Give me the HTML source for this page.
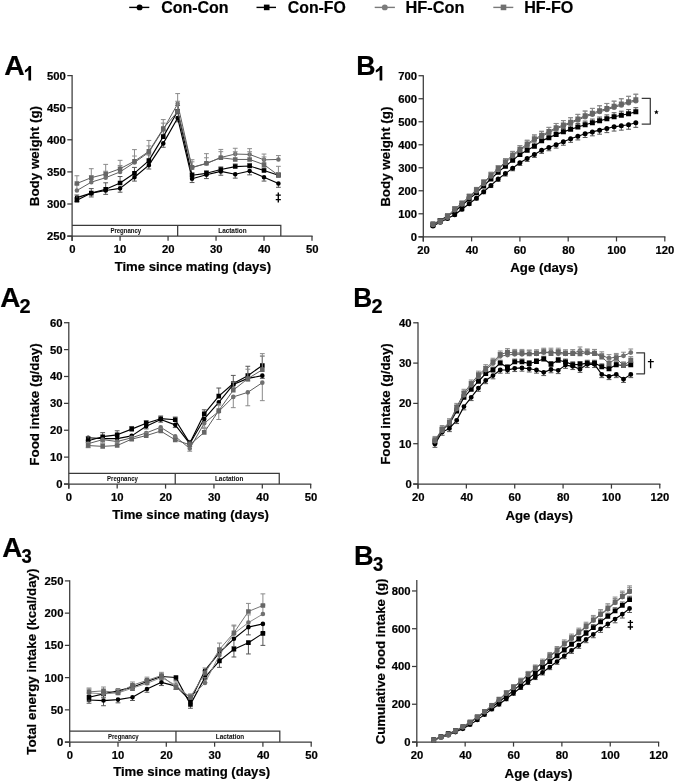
<!DOCTYPE html><html><head><meta charset="utf-8"><style>html,body{margin:0;padding:0;background:#fff;width:675px;height:782px;overflow:hidden}svg{display:block;will-change:transform}</style></head><body><svg width="675" height="782" viewBox="0 0 675 782" font-family="Liberation Sans, sans-serif">
<rect width="675" height="782" fill="#fff"/>
<line x1="129.2" y1="7.4" x2="149.3" y2="7.4" stroke="#000" stroke-width="1.4"/>
<circle cx="139.6" cy="7.4" r="2.95" fill="#000"/>
<text x="161.16" y="12.7" font-size="16.4" font-weight="bold" fill="#000" textLength="67.4" lengthAdjust="spacingAndGlyphs" stroke="#000" stroke-width="0.2">Con-Con</text>
<line x1="256.5" y1="7.4" x2="276" y2="7.4" stroke="#000" stroke-width="1.4"/>
<rect x="263.9" y="4.6" width="5.6" height="5.6" fill="#000"/>
<text x="287.87" y="12.7" font-size="16.4" font-weight="bold" fill="#000" textLength="57.99" lengthAdjust="spacingAndGlyphs" stroke="#000" stroke-width="0.2">Con-FO</text>
<line x1="374.7" y1="7.4" x2="394.9" y2="7.4" stroke="#7a7a7a" stroke-width="1.4"/>
<circle cx="384.8" cy="7.4" r="2.95" fill="#7c7c7c"/>
<text x="405.56" y="12.7" font-size="16.4" font-weight="bold" fill="#000" textLength="58.92" lengthAdjust="spacingAndGlyphs" stroke="#000" stroke-width="0.2">HF-Con</text>
<line x1="493.3" y1="7.4" x2="513.3" y2="7.4" stroke="#7a7a7a" stroke-width="1.4"/>
<rect x="500.7" y="4.6" width="5.6" height="5.6" fill="#707070"/>
<text x="524.17" y="12.7" font-size="16.4" font-weight="bold" fill="#000" textLength="49.18" lengthAdjust="spacingAndGlyphs" stroke="#000" stroke-width="0.2">HF-FO</text>
<text x="4.15" y="74.8" font-size="27.8" font-weight="bold" fill="#000" textLength="20.48" lengthAdjust="spacingAndGlyphs" stroke="#000" stroke-width="0.2">A</text>
<path d="M31.1 66V80.5H28.4V70.3Q26.7 72.2 24.9 72.6V70.2Q27.9 68.6 28.9 66Z" fill="#000"/>
<text x="356.13" y="74.8" font-size="27.8" font-weight="bold" fill="#000" textLength="19.3" lengthAdjust="spacingAndGlyphs" stroke="#000" stroke-width="0.2">B</text>
<path d="M382.3 66V80.5H379.6V70.3Q377.6 72.2 375.8 72.6V70.2Q379.1 68.6 380.1 66Z" fill="#000"/>
<text x="0.36" y="306.7" font-size="27.8" font-weight="bold" fill="#000" textLength="20.16" lengthAdjust="spacingAndGlyphs" stroke="#000" stroke-width="0.2">A</text>
<text x="19.5" y="312.6" font-size="20.7" font-weight="bold" fill="#000" textLength="11.12" lengthAdjust="spacingAndGlyphs" stroke="#000" stroke-width="0.2">2</text>
<text x="353.16" y="306.7" font-size="27.8" font-weight="bold" fill="#000" textLength="18.94" lengthAdjust="spacingAndGlyphs" stroke="#000" stroke-width="0.2">B</text>
<text x="371.6" y="312.6" font-size="20.7" font-weight="bold" fill="#000" textLength="11.12" lengthAdjust="spacingAndGlyphs" stroke="#000" stroke-width="0.2">2</text>
<text x="2.17" y="557" font-size="27.8" font-weight="bold" fill="#000" textLength="20.05" lengthAdjust="spacingAndGlyphs" stroke="#000" stroke-width="0.2">A</text>
<text x="21.53" y="562.9" font-size="20.7" font-weight="bold" fill="#000" textLength="10.23" lengthAdjust="spacingAndGlyphs" stroke="#000" stroke-width="0.2">3</text>
<text x="354" y="564.6" font-size="27.8" font-weight="bold" fill="#000" textLength="19.65" lengthAdjust="spacingAndGlyphs" stroke="#000" stroke-width="0.2">B</text>
<text x="373.03" y="570.5" font-size="20.7" font-weight="bold" fill="#000" textLength="10.23" lengthAdjust="spacingAndGlyphs" stroke="#000" stroke-width="0.2">3</text>
<path d="M72.1 225.3H280.81V236.1M177.66 225.3V236.1" stroke="#3a3a3a" stroke-width="1.25" fill="none"/>
<text x="110.38" y="232.9" font-size="6.9" font-weight="bold" fill="#111" textLength="30.74" lengthAdjust="spacingAndGlyphs" stroke="#111" stroke-width="0.05">Pregnancy</text>
<text x="218.25" y="232.9" font-size="6.9" font-weight="bold" fill="#111" textLength="28.36" lengthAdjust="spacingAndGlyphs" stroke="#111" stroke-width="0.05">Lactation</text>
<line x1="67.3" y1="236.1" x2="312.6" y2="236.1" stroke="#3a3a3a" stroke-width="1.25"/>
<line x1="72.1" y1="236.1" x2="72.1" y2="240.7" stroke="#3a3a3a" stroke-width="1.25"/>
<text x="69.14" y="253.2" font-size="11.3" font-weight="bold" fill="#000" textLength="6.28" lengthAdjust="spacingAndGlyphs" stroke="#000" stroke-width="0.2">0</text>
<line x1="120.08" y1="236.1" x2="120.08" y2="240.7" stroke="#3a3a3a" stroke-width="1.25"/>
<text x="113.84" y="253.2" font-size="11.3" font-weight="bold" fill="#000" textLength="12.57" lengthAdjust="spacingAndGlyphs" stroke="#000" stroke-width="0.2">10</text>
<line x1="168.06" y1="236.1" x2="168.06" y2="240.7" stroke="#3a3a3a" stroke-width="1.25"/>
<text x="161.99" y="253.2" font-size="11.3" font-weight="bold" fill="#000" textLength="12.57" lengthAdjust="spacingAndGlyphs" stroke="#000" stroke-width="0.2">20</text>
<line x1="216.04" y1="236.1" x2="216.04" y2="240.7" stroke="#3a3a3a" stroke-width="1.25"/>
<text x="210.02" y="253.2" font-size="11.3" font-weight="bold" fill="#000" textLength="12.57" lengthAdjust="spacingAndGlyphs" stroke="#000" stroke-width="0.2">30</text>
<line x1="264.02" y1="236.1" x2="264.02" y2="240.7" stroke="#3a3a3a" stroke-width="1.25"/>
<text x="258.06" y="253.2" font-size="11.3" font-weight="bold" fill="#000" textLength="12.57" lengthAdjust="spacingAndGlyphs" stroke="#000" stroke-width="0.2">40</text>
<line x1="312" y1="236.1" x2="312" y2="240.7" stroke="#3a3a3a" stroke-width="1.25"/>
<text x="305.93" y="253.2" font-size="11.3" font-weight="bold" fill="#000" textLength="12.57" lengthAdjust="spacingAndGlyphs" stroke="#000" stroke-width="0.2">50</text>
<line x1="72.1" y1="75" x2="72.1" y2="240.9" stroke="#3a3a3a" stroke-width="1.25"/>
<line x1="67.3" y1="236.1" x2="72.1" y2="236.1" stroke="#3a3a3a" stroke-width="1.25"/>
<text x="46.98" y="240.1" font-size="11.3" font-weight="bold" fill="#000" textLength="18.85" lengthAdjust="spacingAndGlyphs" stroke="#000" stroke-width="0.2">250</text>
<line x1="67.3" y1="204" x2="72.1" y2="204" stroke="#3a3a3a" stroke-width="1.25"/>
<text x="46.98" y="208" font-size="11.3" font-weight="bold" fill="#000" textLength="18.85" lengthAdjust="spacingAndGlyphs" stroke="#000" stroke-width="0.2">300</text>
<line x1="67.3" y1="171.9" x2="72.1" y2="171.9" stroke="#3a3a3a" stroke-width="1.25"/>
<text x="46.98" y="175.9" font-size="11.3" font-weight="bold" fill="#000" textLength="18.85" lengthAdjust="spacingAndGlyphs" stroke="#000" stroke-width="0.2">350</text>
<line x1="67.3" y1="139.8" x2="72.1" y2="139.8" stroke="#3a3a3a" stroke-width="1.25"/>
<text x="46.98" y="143.8" font-size="11.3" font-weight="bold" fill="#000" textLength="18.85" lengthAdjust="spacingAndGlyphs" stroke="#000" stroke-width="0.2">400</text>
<line x1="67.3" y1="107.7" x2="72.1" y2="107.7" stroke="#3a3a3a" stroke-width="1.25"/>
<text x="46.98" y="111.7" font-size="11.3" font-weight="bold" fill="#000" textLength="18.85" lengthAdjust="spacingAndGlyphs" stroke="#000" stroke-width="0.2">450</text>
<line x1="67.3" y1="75.6" x2="72.1" y2="75.6" stroke="#3a3a3a" stroke-width="1.25"/>
<text x="46.98" y="79.6" font-size="11.3" font-weight="bold" fill="#000" textLength="18.85" lengthAdjust="spacingAndGlyphs" stroke="#000" stroke-width="0.2">500</text>
<text x="38.7" y="206.24" font-size="13.7" font-weight="bold" fill="#000" textLength="100.28" lengthAdjust="spacingAndGlyphs" transform="rotate(-90 38.7 206.24)" stroke="#000" stroke-width="0.2">Body weight (g)</text>
<text x="114.67" y="271.2" font-size="13.7" font-weight="bold" fill="#000" textLength="156.37" lengthAdjust="spacingAndGlyphs" stroke="#000" stroke-width="0.2">Time since mating (days)</text>
<path d="M76.9 197.58V201.43M74.5 201.43H79.3M91.29 193.09V196.94M88.89 196.94H93.69M105.69 190.52V194.37M103.29 194.37H108.09M120.08 188.34V192.19M117.68 192.19H122.48M134.47 177.23V181.08M132.07 181.08H136.87M148.87 165.16V169.01M146.47 169.01H151.27M163.26 143.4V147.25M160.86 147.25H165.66M177.66 117.97V121.82M175.26 121.82H180.06M192.05 178.71V182.56M189.65 182.56H194.45M206.44 174.72V178.58M204.04 178.58H208.84M220.84 171.39V175.24M218.44 175.24H223.24M235.23 174.28V178.13M232.83 178.13H237.63M249.63 171V174.85M247.23 174.85H252.03M264.02 177.23V181.08M261.62 181.08H266.42M278.41 183.46V187.31M276.01 187.31H280.81" stroke="#555" stroke-width="1" fill="none"/>
<path d="M76.9 197.58L91.29 193.09L105.69 190.52L120.08 188.34L134.47 177.23L148.87 165.16L163.26 143.4L177.66 117.97L192.05 178.71L206.44 174.72L220.84 171.39L235.23 174.28L249.63 171L264.02 177.23L278.41 183.46" stroke="#000" stroke-width="1.15" fill="none" stroke-linejoin="round"/>
<path d="M74.6 197.58a2.3 2.3 0 1 0 4.6 0a2.3 2.3 0 1 0 -4.6 0ZM88.99 193.09a2.3 2.3 0 1 0 4.6 0a2.3 2.3 0 1 0 -4.6 0ZM103.39 190.52a2.3 2.3 0 1 0 4.6 0a2.3 2.3 0 1 0 -4.6 0ZM117.78 188.34a2.3 2.3 0 1 0 4.6 0a2.3 2.3 0 1 0 -4.6 0ZM132.17 177.23a2.3 2.3 0 1 0 4.6 0a2.3 2.3 0 1 0 -4.6 0ZM146.57 165.16a2.3 2.3 0 1 0 4.6 0a2.3 2.3 0 1 0 -4.6 0ZM160.96 143.4a2.3 2.3 0 1 0 4.6 0a2.3 2.3 0 1 0 -4.6 0ZM175.36 117.97a2.3 2.3 0 1 0 4.6 0a2.3 2.3 0 1 0 -4.6 0ZM189.75 178.71a2.3 2.3 0 1 0 4.6 0a2.3 2.3 0 1 0 -4.6 0ZM204.14 174.72a2.3 2.3 0 1 0 4.6 0a2.3 2.3 0 1 0 -4.6 0ZM218.54 171.39a2.3 2.3 0 1 0 4.6 0a2.3 2.3 0 1 0 -4.6 0ZM232.93 174.28a2.3 2.3 0 1 0 4.6 0a2.3 2.3 0 1 0 -4.6 0ZM247.33 171a2.3 2.3 0 1 0 4.6 0a2.3 2.3 0 1 0 -4.6 0ZM261.72 177.23a2.3 2.3 0 1 0 4.6 0a2.3 2.3 0 1 0 -4.6 0ZM276.11 183.46a2.3 2.3 0 1 0 4.6 0a2.3 2.3 0 1 0 -4.6 0Z" fill="#000"/>
<path d="M76.9 195.01V200.15M74.5 195.01H79.3M91.29 188.59V193.09M88.89 188.59H93.69M105.69 182.81V189.23M103.29 182.81H108.09M120.08 176.52V182.94M117.68 176.52H122.48M134.47 167.41V173.18M132.07 167.41H136.87M148.87 154.89V160.66M146.47 154.89H151.27M163.26 130.81V136.59M160.86 130.81H165.66M177.66 105.52V111.3M175.26 105.52H180.06M192.05 172.73V175.3M189.65 172.73H194.45M206.44 170.74V173.31M204.04 170.74H208.84M220.84 166.96V169.52M218.44 166.96H223.24M235.23 164V166.57M232.83 164H237.63M249.63 163.43V165.99M247.23 163.43H252.03M264.02 167.92V170.49M261.62 167.92H266.42M278.41 172.73V175.3M276.01 172.73H280.81" stroke="#555" stroke-width="1" fill="none"/>
<path d="M76.9 200.15L91.29 193.09L105.69 189.23L120.08 182.94L134.47 173.18L148.87 160.66L163.26 136.59L177.66 111.3L192.05 175.3L206.44 173.31L220.84 169.52L235.23 166.57L249.63 165.99L264.02 170.49L278.41 175.3" stroke="#000" stroke-width="1.15" fill="none" stroke-linejoin="round"/>
<path d="M74.6 197.85h4.6v4.6h-4.6ZM88.99 190.79h4.6v4.6h-4.6ZM103.39 186.93h4.6v4.6h-4.6ZM117.78 180.64h4.6v4.6h-4.6ZM132.17 170.88h4.6v4.6h-4.6ZM146.57 158.36h4.6v4.6h-4.6ZM160.96 134.29h4.6v4.6h-4.6ZM175.36 109h4.6v4.6h-4.6ZM189.75 173h4.6v4.6h-4.6ZM204.14 171.01h4.6v4.6h-4.6ZM218.54 167.22h4.6v4.6h-4.6ZM232.93 164.27h4.6v4.6h-4.6ZM247.33 163.69h4.6v4.6h-4.6ZM261.72 168.19h4.6v4.6h-4.6ZM276.11 173h4.6v4.6h-4.6Z" fill="#000"/>
<path d="M76.9 184.1V190.52M74.5 184.1H79.3M91.29 175.75V182.17M88.89 175.75H93.69M105.69 171.26V177.68M103.29 171.26H108.09M120.08 165.48V171.9M117.68 165.48H122.48M134.47 156.04V162.46M132.07 156.04H136.87M148.87 145.9V152.32M146.47 145.9H151.27M163.26 123.11V129.53M160.86 123.11H165.66M177.66 93.58V103.85M175.26 93.58H180.06M192.05 161.82V167.6M189.65 161.82H194.45M206.44 157.78V163.55M204.04 157.78H208.84M220.84 151.68V157.45M218.44 151.68H223.24M235.23 148.27V154.05M232.83 148.27H237.63M249.63 148.66V154.44M247.23 148.66H252.03M264.02 154.05V159.83M261.62 154.05H266.42M278.41 155.59V159.45M276.01 155.59H280.81" stroke="#8a8a8a" stroke-width="1" fill="none"/>
<path d="M76.9 190.52L91.29 182.17L105.69 177.68L120.08 171.9L134.47 162.46L148.87 152.32L163.26 129.53L177.66 103.85L192.05 167.6L206.44 163.55L220.84 157.45L235.23 154.05L249.63 154.44L264.02 159.83L278.41 159.45" stroke="#5e5e5e" stroke-width="1.0" fill="none" stroke-linejoin="round"/>
<path d="M74.6 190.52a2.3 2.3 0 1 0 4.6 0a2.3 2.3 0 1 0 -4.6 0ZM88.99 182.17a2.3 2.3 0 1 0 4.6 0a2.3 2.3 0 1 0 -4.6 0ZM103.39 177.68a2.3 2.3 0 1 0 4.6 0a2.3 2.3 0 1 0 -4.6 0ZM117.78 171.9a2.3 2.3 0 1 0 4.6 0a2.3 2.3 0 1 0 -4.6 0ZM132.17 162.46a2.3 2.3 0 1 0 4.6 0a2.3 2.3 0 1 0 -4.6 0ZM146.57 152.32a2.3 2.3 0 1 0 4.6 0a2.3 2.3 0 1 0 -4.6 0ZM160.96 129.53a2.3 2.3 0 1 0 4.6 0a2.3 2.3 0 1 0 -4.6 0ZM175.36 103.85a2.3 2.3 0 1 0 4.6 0a2.3 2.3 0 1 0 -4.6 0ZM189.75 167.6a2.3 2.3 0 1 0 4.6 0a2.3 2.3 0 1 0 -4.6 0ZM204.14 163.55a2.3 2.3 0 1 0 4.6 0a2.3 2.3 0 1 0 -4.6 0ZM218.54 157.45a2.3 2.3 0 1 0 4.6 0a2.3 2.3 0 1 0 -4.6 0ZM232.93 154.05a2.3 2.3 0 1 0 4.6 0a2.3 2.3 0 1 0 -4.6 0ZM247.33 154.44a2.3 2.3 0 1 0 4.6 0a2.3 2.3 0 1 0 -4.6 0ZM261.72 159.83a2.3 2.3 0 1 0 4.6 0a2.3 2.3 0 1 0 -4.6 0ZM276.11 159.45a2.3 2.3 0 1 0 4.6 0a2.3 2.3 0 1 0 -4.6 0Z" fill="#707070"/>
<path d="M76.9 175.75V183.46M74.5 175.75H79.3M91.29 168.69V177.68M88.89 168.69H93.69M105.69 164.39V174.02M103.29 164.39H108.09M120.08 160.34V168.69M117.68 160.34H122.48M134.47 149.62V161.18M132.07 149.62H136.87M148.87 140.44V151.36M146.47 140.44H151.27M163.26 119.58V128.56M160.86 119.58H165.66M177.66 101.28V111.55M175.26 101.28H180.06M192.05 159.7V167.41M189.65 159.7H194.45M206.44 153.67V163.3M204.04 153.67H208.84M220.84 149.43V157.78M218.44 149.43H223.24M235.23 151.74V159.45M232.83 151.74H237.63M249.63 151.74V159.45M247.23 151.74H252.03M264.02 156.94V164.65M261.62 156.94H266.42M278.41 166.31V175.3M276.01 166.31H280.81" stroke="#8a8a8a" stroke-width="1" fill="none"/>
<path d="M76.9 183.46L91.29 177.68L105.69 174.02L120.08 168.69L134.47 161.18L148.87 151.36L163.26 128.56L177.66 111.55L192.05 167.41L206.44 163.3L220.84 157.78L235.23 159.45L249.63 159.45L264.02 164.65L278.41 175.3" stroke="#5e5e5e" stroke-width="1.0" fill="none" stroke-linejoin="round"/>
<path d="M74.6 181.16h4.6v4.6h-4.6ZM88.99 175.38h4.6v4.6h-4.6ZM103.39 171.72h4.6v4.6h-4.6ZM117.78 166.39h4.6v4.6h-4.6ZM132.17 158.88h4.6v4.6h-4.6ZM146.57 149.06h4.6v4.6h-4.6ZM160.96 126.27h4.6v4.6h-4.6ZM175.36 109.25h4.6v4.6h-4.6ZM189.75 165.11h4.6v4.6h-4.6ZM204.14 161h4.6v4.6h-4.6ZM218.54 155.48h4.6v4.6h-4.6ZM232.93 157.15h4.6v4.6h-4.6ZM247.33 157.15h4.6v4.6h-4.6ZM261.72 162.35h4.6v4.6h-4.6ZM276.11 173h4.6v4.6h-4.6Z" fill="#666666"/>
<path d="M278.3 192.4V202.4M275.75 195.1H280.85M275.75 199.6H280.85" stroke="#000" stroke-width="1.35" fill="none"/>
<path d="M68.8 473.3H279.25V484M175.24 473.3V484" stroke="#3a3a3a" stroke-width="1.25" fill="none"/>
<text x="107.08" y="480.9" font-size="6.9" font-weight="bold" fill="#111" textLength="30.74" lengthAdjust="spacingAndGlyphs" stroke="#111" stroke-width="0.05">Pregnancy</text>
<text x="214.95" y="480.9" font-size="6.9" font-weight="bold" fill="#111" textLength="28.36" lengthAdjust="spacingAndGlyphs" stroke="#111" stroke-width="0.05">Lactation</text>
<line x1="64" y1="484" x2="311.3" y2="484" stroke="#3a3a3a" stroke-width="1.25"/>
<line x1="68.8" y1="484" x2="68.8" y2="488.6" stroke="#3a3a3a" stroke-width="1.25"/>
<text x="65.84" y="501.1" font-size="11.3" font-weight="bold" fill="#000" textLength="6.28" lengthAdjust="spacingAndGlyphs" stroke="#000" stroke-width="0.2">0</text>
<line x1="117.18" y1="484" x2="117.18" y2="488.6" stroke="#3a3a3a" stroke-width="1.25"/>
<text x="110.94" y="501.1" font-size="11.3" font-weight="bold" fill="#000" textLength="12.57" lengthAdjust="spacingAndGlyphs" stroke="#000" stroke-width="0.2">10</text>
<line x1="165.56" y1="484" x2="165.56" y2="488.6" stroke="#3a3a3a" stroke-width="1.25"/>
<text x="159.49" y="501.1" font-size="11.3" font-weight="bold" fill="#000" textLength="12.57" lengthAdjust="spacingAndGlyphs" stroke="#000" stroke-width="0.2">20</text>
<line x1="213.94" y1="484" x2="213.94" y2="488.6" stroke="#3a3a3a" stroke-width="1.25"/>
<text x="207.92" y="501.1" font-size="11.3" font-weight="bold" fill="#000" textLength="12.57" lengthAdjust="spacingAndGlyphs" stroke="#000" stroke-width="0.2">30</text>
<line x1="262.32" y1="484" x2="262.32" y2="488.6" stroke="#3a3a3a" stroke-width="1.25"/>
<text x="256.36" y="501.1" font-size="11.3" font-weight="bold" fill="#000" textLength="12.57" lengthAdjust="spacingAndGlyphs" stroke="#000" stroke-width="0.2">40</text>
<line x1="310.7" y1="484" x2="310.7" y2="488.6" stroke="#3a3a3a" stroke-width="1.25"/>
<text x="304.63" y="501.1" font-size="11.3" font-weight="bold" fill="#000" textLength="12.57" lengthAdjust="spacingAndGlyphs" stroke="#000" stroke-width="0.2">50</text>
<line x1="68.8" y1="322.12" x2="68.8" y2="488.8" stroke="#3a3a3a" stroke-width="1.25"/>
<line x1="64" y1="484" x2="68.8" y2="484" stroke="#3a3a3a" stroke-width="1.25"/>
<text x="56.22" y="488" font-size="11.3" font-weight="bold" fill="#000" textLength="6.28" lengthAdjust="spacingAndGlyphs" stroke="#000" stroke-width="0.2">0</text>
<line x1="64" y1="457.12" x2="68.8" y2="457.12" stroke="#3a3a3a" stroke-width="1.25"/>
<text x="49.9" y="461.12" font-size="11.3" font-weight="bold" fill="#000" textLength="12.57" lengthAdjust="spacingAndGlyphs" stroke="#000" stroke-width="0.2">10</text>
<line x1="64" y1="430.24" x2="68.8" y2="430.24" stroke="#3a3a3a" stroke-width="1.25"/>
<text x="49.9" y="434.24" font-size="11.3" font-weight="bold" fill="#000" textLength="12.57" lengthAdjust="spacingAndGlyphs" stroke="#000" stroke-width="0.2">20</text>
<line x1="64" y1="403.36" x2="68.8" y2="403.36" stroke="#3a3a3a" stroke-width="1.25"/>
<text x="49.9" y="407.36" font-size="11.3" font-weight="bold" fill="#000" textLength="12.57" lengthAdjust="spacingAndGlyphs" stroke="#000" stroke-width="0.2">30</text>
<line x1="64" y1="376.48" x2="68.8" y2="376.48" stroke="#3a3a3a" stroke-width="1.25"/>
<text x="49.9" y="380.48" font-size="11.3" font-weight="bold" fill="#000" textLength="12.57" lengthAdjust="spacingAndGlyphs" stroke="#000" stroke-width="0.2">40</text>
<line x1="64" y1="349.6" x2="68.8" y2="349.6" stroke="#3a3a3a" stroke-width="1.25"/>
<text x="49.9" y="353.6" font-size="11.3" font-weight="bold" fill="#000" textLength="12.57" lengthAdjust="spacingAndGlyphs" stroke="#000" stroke-width="0.2">50</text>
<line x1="64" y1="322.72" x2="68.8" y2="322.72" stroke="#3a3a3a" stroke-width="1.25"/>
<text x="49.9" y="326.72" font-size="11.3" font-weight="bold" fill="#000" textLength="12.57" lengthAdjust="spacingAndGlyphs" stroke="#000" stroke-width="0.2">60</text>
<text x="38.7" y="465.63" font-size="13.7" font-weight="bold" fill="#000" textLength="122.38" lengthAdjust="spacingAndGlyphs" transform="rotate(-90 38.7 465.63)" stroke="#000" stroke-width="0.2">Food intake (g/day)</text>
<text x="112.27" y="519.3" font-size="13.7" font-weight="bold" fill="#000" textLength="156.67" lengthAdjust="spacingAndGlyphs" stroke="#000" stroke-width="0.2">Time since mating (days)</text>
<path d="M88.15 437.77V440.45M85.75 440.45H90.55M102.67 438.57V441.26M100.27 441.26H105.07M117.18 438.57V441.26M114.78 441.26H119.58M131.69 435.88V438.57M129.29 438.57H134.09M146.21 426.21V428.9M143.81 428.9H148.61M160.72 419.49V422.18M158.32 422.18H163.12M175.24 424.86V427.55M172.84 427.55H177.64M189.75 443.68V446.37M187.35 446.37H192.15M204.26 418.95V421.64M201.86 421.64H206.66M218.78 402.28V404.97M216.38 404.97H221.18M233.29 384.54V387.23M230.89 387.23H235.69M247.81 378.36V381.05M245.41 381.05H250.21M262.32 375.67V378.36M259.92 378.36H264.72" stroke="#555" stroke-width="1" fill="none"/>
<path d="M88.15 437.77L102.67 438.57L117.18 438.57L131.69 435.88L146.21 426.21L160.72 419.49L175.24 424.86L189.75 443.68L204.26 418.95L218.78 402.28L233.29 384.54L247.81 378.36L262.32 375.67" stroke="#000" stroke-width="1.15" fill="none" stroke-linejoin="round"/>
<path d="M85.85 437.77a2.3 2.3 0 1 0 4.6 0a2.3 2.3 0 1 0 -4.6 0ZM100.37 438.57a2.3 2.3 0 1 0 4.6 0a2.3 2.3 0 1 0 -4.6 0ZM114.88 438.57a2.3 2.3 0 1 0 4.6 0a2.3 2.3 0 1 0 -4.6 0ZM129.39 435.88a2.3 2.3 0 1 0 4.6 0a2.3 2.3 0 1 0 -4.6 0ZM143.91 426.21a2.3 2.3 0 1 0 4.6 0a2.3 2.3 0 1 0 -4.6 0ZM158.42 419.49a2.3 2.3 0 1 0 4.6 0a2.3 2.3 0 1 0 -4.6 0ZM172.94 424.86a2.3 2.3 0 1 0 4.6 0a2.3 2.3 0 1 0 -4.6 0ZM187.45 443.68a2.3 2.3 0 1 0 4.6 0a2.3 2.3 0 1 0 -4.6 0ZM201.96 418.95a2.3 2.3 0 1 0 4.6 0a2.3 2.3 0 1 0 -4.6 0ZM216.48 402.28a2.3 2.3 0 1 0 4.6 0a2.3 2.3 0 1 0 -4.6 0ZM230.99 384.54a2.3 2.3 0 1 0 4.6 0a2.3 2.3 0 1 0 -4.6 0ZM245.51 378.36a2.3 2.3 0 1 0 4.6 0a2.3 2.3 0 1 0 -4.6 0ZM260.02 375.67a2.3 2.3 0 1 0 4.6 0a2.3 2.3 0 1 0 -4.6 0Z" fill="#000"/>
<path d="M88.15 436.69V440.72M85.75 436.69H90.55M102.67 432.66V436.69M100.27 432.66H105.07M117.18 430.78V434.81M114.78 430.78H119.58M131.69 426.48V429.16M129.29 426.48H134.09M146.21 420.56V423.25M143.81 420.56H148.61M160.72 415.99V418.68M158.32 415.99H163.12M175.24 417.07V419.76M172.84 417.07H177.64M189.75 440.45V443.14M187.35 440.45H192.15M204.26 409.81V413.84M201.86 409.81H206.66M218.78 388.04V396.1M216.38 388.04H221.18M233.29 375.4V383.47M230.89 375.4H235.69M247.81 366.27V375.67M245.41 366.27H250.21M262.32 356.05V365.46M259.92 356.05H264.72" stroke="#555" stroke-width="1" fill="none"/>
<path d="M88.15 440.72L102.67 436.69L117.18 434.81L131.69 429.16L146.21 423.25L160.72 418.68L175.24 419.76L189.75 443.14L204.26 413.84L218.78 396.1L233.29 383.47L247.81 375.67L262.32 365.46" stroke="#000" stroke-width="1.15" fill="none" stroke-linejoin="round"/>
<path d="M85.85 438.42h4.6v4.6h-4.6ZM100.37 434.39h4.6v4.6h-4.6ZM114.88 432.51h4.6v4.6h-4.6ZM129.39 426.86h4.6v4.6h-4.6ZM143.91 420.95h4.6v4.6h-4.6ZM158.42 416.38h4.6v4.6h-4.6ZM172.94 417.46h4.6v4.6h-4.6ZM187.45 440.84h4.6v4.6h-4.6ZM201.96 411.54h4.6v4.6h-4.6ZM216.48 393.8h4.6v4.6h-4.6ZM230.99 381.17h4.6v4.6h-4.6ZM245.51 373.37h4.6v4.6h-4.6ZM260.02 363.16h4.6v4.6h-4.6Z" fill="#000"/>
<path d="M88.15 443.68V447.71M85.75 447.71H90.55M102.67 439.65V442.87M100.27 442.87H105.07M117.18 441.53V444.76M114.78 444.76H119.58M131.69 437.77V440.45M129.29 440.45H134.09M146.21 432.93V435.62M143.81 435.62H148.61M160.72 427.28V429.97M158.32 429.97H163.12M175.24 436.42V439.11M172.84 439.11H177.64M189.75 448.52V451.21M187.35 451.21H192.15M204.26 423.25V427.28M201.86 427.28H206.66M218.78 411.42V419.49M216.38 419.49H221.18M233.29 396.91V407.66M230.89 407.66H235.69M247.81 392.34V405.78M245.41 405.78H250.21M262.32 382.66V400.67M259.92 400.67H264.72" stroke="#8a8a8a" stroke-width="1" fill="none"/>
<path d="M88.15 443.68L102.67 439.65L117.18 441.53L131.69 437.77L146.21 432.93L160.72 427.28L175.24 436.42L189.75 448.52L204.26 423.25L218.78 411.42L233.29 396.91L247.81 392.34L262.32 382.66" stroke="#5e5e5e" stroke-width="1.0" fill="none" stroke-linejoin="round"/>
<path d="M85.85 443.68a2.3 2.3 0 1 0 4.6 0a2.3 2.3 0 1 0 -4.6 0ZM100.37 439.65a2.3 2.3 0 1 0 4.6 0a2.3 2.3 0 1 0 -4.6 0ZM114.88 441.53a2.3 2.3 0 1 0 4.6 0a2.3 2.3 0 1 0 -4.6 0ZM129.39 437.77a2.3 2.3 0 1 0 4.6 0a2.3 2.3 0 1 0 -4.6 0ZM143.91 432.93a2.3 2.3 0 1 0 4.6 0a2.3 2.3 0 1 0 -4.6 0ZM158.42 427.28a2.3 2.3 0 1 0 4.6 0a2.3 2.3 0 1 0 -4.6 0ZM172.94 436.42a2.3 2.3 0 1 0 4.6 0a2.3 2.3 0 1 0 -4.6 0ZM187.45 448.52a2.3 2.3 0 1 0 4.6 0a2.3 2.3 0 1 0 -4.6 0ZM201.96 423.25a2.3 2.3 0 1 0 4.6 0a2.3 2.3 0 1 0 -4.6 0ZM216.48 411.42a2.3 2.3 0 1 0 4.6 0a2.3 2.3 0 1 0 -4.6 0ZM230.99 396.91a2.3 2.3 0 1 0 4.6 0a2.3 2.3 0 1 0 -4.6 0ZM245.51 392.34a2.3 2.3 0 1 0 4.6 0a2.3 2.3 0 1 0 -4.6 0ZM260.02 382.66a2.3 2.3 0 1 0 4.6 0a2.3 2.3 0 1 0 -4.6 0Z" fill="#707070"/>
<path d="M88.15 442.34V445.56M85.75 442.34H90.55M102.67 443.68V446.37M100.27 443.68H105.07M117.18 442.87V445.56M114.78 442.87H119.58M131.69 436.42V439.11M129.29 436.42H134.09M146.21 432.93V435.62M143.81 432.93H148.61M160.72 428.36V431.05M158.32 428.36H163.12M175.24 437.23V439.92M172.84 437.23H177.64M189.75 442.07V444.76M187.35 442.07H192.15M204.26 428.36V432.39M201.86 428.36H206.66M218.78 403.9V410.62M216.38 403.9H221.18M233.29 382.12V390.19M230.89 382.12H235.69M247.81 369.22V378.63M245.41 369.22H250.21M262.32 353.63V369.76M259.92 353.63H264.72" stroke="#8a8a8a" stroke-width="1" fill="none"/>
<path d="M88.15 445.56L102.67 446.37L117.18 445.56L131.69 439.11L146.21 435.62L160.72 431.05L175.24 439.92L189.75 444.76L204.26 432.39L218.78 410.62L233.29 390.19L247.81 378.63L262.32 369.76" stroke="#5e5e5e" stroke-width="1.0" fill="none" stroke-linejoin="round"/>
<path d="M85.85 443.26h4.6v4.6h-4.6ZM100.37 444.07h4.6v4.6h-4.6ZM114.88 443.26h4.6v4.6h-4.6ZM129.39 436.81h4.6v4.6h-4.6ZM143.91 433.32h4.6v4.6h-4.6ZM158.42 428.75h4.6v4.6h-4.6ZM172.94 437.62h4.6v4.6h-4.6ZM187.45 442.46h4.6v4.6h-4.6ZM201.96 430.09h4.6v4.6h-4.6ZM216.48 408.32h4.6v4.6h-4.6ZM230.99 387.89h4.6v4.6h-4.6ZM245.51 376.33h4.6v4.6h-4.6ZM260.02 367.46h4.6v4.6h-4.6Z" fill="#666666"/>
<path d="M69.7 731.2H279.81V742.1M175.96 731.2V742.1" stroke="#3a3a3a" stroke-width="1.25" fill="none"/>
<text x="107.98" y="738.8" font-size="6.9" font-weight="bold" fill="#111" textLength="30.74" lengthAdjust="spacingAndGlyphs" stroke="#111" stroke-width="0.05">Pregnancy</text>
<text x="215.85" y="738.8" font-size="6.9" font-weight="bold" fill="#111" textLength="28.36" lengthAdjust="spacingAndGlyphs" stroke="#111" stroke-width="0.05">Lactation</text>
<line x1="64.9" y1="742.1" x2="311.8" y2="742.1" stroke="#3a3a3a" stroke-width="1.25"/>
<line x1="69.7" y1="742.1" x2="69.7" y2="746.7" stroke="#3a3a3a" stroke-width="1.25"/>
<text x="66.74" y="759.2" font-size="11.3" font-weight="bold" fill="#000" textLength="6.28" lengthAdjust="spacingAndGlyphs" stroke="#000" stroke-width="0.2">0</text>
<line x1="118" y1="742.1" x2="118" y2="746.7" stroke="#3a3a3a" stroke-width="1.25"/>
<text x="111.76" y="759.2" font-size="11.3" font-weight="bold" fill="#000" textLength="12.57" lengthAdjust="spacingAndGlyphs" stroke="#000" stroke-width="0.2">10</text>
<line x1="166.3" y1="742.1" x2="166.3" y2="746.7" stroke="#3a3a3a" stroke-width="1.25"/>
<text x="160.23" y="759.2" font-size="11.3" font-weight="bold" fill="#000" textLength="12.57" lengthAdjust="spacingAndGlyphs" stroke="#000" stroke-width="0.2">20</text>
<line x1="214.6" y1="742.1" x2="214.6" y2="746.7" stroke="#3a3a3a" stroke-width="1.25"/>
<text x="208.59" y="759.2" font-size="11.3" font-weight="bold" fill="#000" textLength="12.57" lengthAdjust="spacingAndGlyphs" stroke="#000" stroke-width="0.2">30</text>
<line x1="262.9" y1="742.1" x2="262.9" y2="746.7" stroke="#3a3a3a" stroke-width="1.25"/>
<text x="256.94" y="759.2" font-size="11.3" font-weight="bold" fill="#000" textLength="12.57" lengthAdjust="spacingAndGlyphs" stroke="#000" stroke-width="0.2">40</text>
<line x1="311.2" y1="742.1" x2="311.2" y2="746.7" stroke="#3a3a3a" stroke-width="1.25"/>
<text x="305.13" y="759.2" font-size="11.3" font-weight="bold" fill="#000" textLength="12.57" lengthAdjust="spacingAndGlyphs" stroke="#000" stroke-width="0.2">50</text>
<line x1="69.7" y1="580.3" x2="69.7" y2="746.9" stroke="#3a3a3a" stroke-width="1.25"/>
<line x1="64.9" y1="742.1" x2="69.7" y2="742.1" stroke="#3a3a3a" stroke-width="1.25"/>
<text x="57.12" y="746.1" font-size="11.3" font-weight="bold" fill="#000" textLength="6.28" lengthAdjust="spacingAndGlyphs" stroke="#000" stroke-width="0.2">0</text>
<line x1="64.9" y1="709.86" x2="69.7" y2="709.86" stroke="#3a3a3a" stroke-width="1.25"/>
<text x="50.8" y="713.86" font-size="11.3" font-weight="bold" fill="#000" textLength="12.57" lengthAdjust="spacingAndGlyphs" stroke="#000" stroke-width="0.2">50</text>
<line x1="64.9" y1="677.62" x2="69.7" y2="677.62" stroke="#3a3a3a" stroke-width="1.25"/>
<text x="44.58" y="681.62" font-size="11.3" font-weight="bold" fill="#000" textLength="18.85" lengthAdjust="spacingAndGlyphs" stroke="#000" stroke-width="0.2">100</text>
<line x1="64.9" y1="645.38" x2="69.7" y2="645.38" stroke="#3a3a3a" stroke-width="1.25"/>
<text x="44.58" y="649.38" font-size="11.3" font-weight="bold" fill="#000" textLength="18.85" lengthAdjust="spacingAndGlyphs" stroke="#000" stroke-width="0.2">150</text>
<line x1="64.9" y1="613.14" x2="69.7" y2="613.14" stroke="#3a3a3a" stroke-width="1.25"/>
<text x="44.58" y="617.14" font-size="11.3" font-weight="bold" fill="#000" textLength="18.85" lengthAdjust="spacingAndGlyphs" stroke="#000" stroke-width="0.2">200</text>
<line x1="64.9" y1="580.9" x2="69.7" y2="580.9" stroke="#3a3a3a" stroke-width="1.25"/>
<text x="44.58" y="584.9" font-size="11.3" font-weight="bold" fill="#000" textLength="18.85" lengthAdjust="spacingAndGlyphs" stroke="#000" stroke-width="0.2">250</text>
<text x="36" y="754.63" font-size="13.7" font-weight="bold" fill="#000" textLength="186.09" lengthAdjust="spacingAndGlyphs" transform="rotate(-90 36 754.63)" stroke="#000" stroke-width="0.2">Total energy intake (kcal/day)</text>
<text x="113.17" y="775.7" font-size="13.7" font-weight="bold" fill="#000" textLength="156.97" lengthAdjust="spacingAndGlyphs" stroke="#000" stroke-width="0.2">Time since mating (days)</text>
<path d="M89.02 699.99V703.22M86.62 703.22H91.42M103.51 700.57V705.73M101.11 705.73H105.91M118 699.61V702.83M115.6 702.83H120.4M132.49 697.29V700.51M130.09 700.51H134.89M146.98 689.03V692.26M144.58 692.26H149.38M161.47 682.33V685.55M159.07 685.55H163.87M175.96 686.13V689.36M173.56 689.36H178.36M190.45 700.57V703.8M188.05 703.8H192.85M204.94 670.46V675.62M202.54 675.62H207.34M219.43 652.54V658.99M217.03 658.99H221.83M233.92 638.8V646.54M231.52 646.54H236.32M248.41 627.13V634.87M246.01 634.87H250.81M262.9 623.91V632.94M260.5 632.94H265.3" stroke="#555" stroke-width="1" fill="none"/>
<path d="M89.02 699.99L103.51 700.57L118 699.61L132.49 697.29L146.98 689.03L161.47 682.33L175.96 686.13L190.45 700.57L204.94 670.46L219.43 652.54L233.92 638.8L248.41 627.13L262.9 623.91" stroke="#000" stroke-width="1.15" fill="none" stroke-linejoin="round"/>
<path d="M86.72 699.99a2.3 2.3 0 1 0 4.6 0a2.3 2.3 0 1 0 -4.6 0ZM101.21 700.57a2.3 2.3 0 1 0 4.6 0a2.3 2.3 0 1 0 -4.6 0ZM115.7 699.61a2.3 2.3 0 1 0 4.6 0a2.3 2.3 0 1 0 -4.6 0ZM130.19 697.29a2.3 2.3 0 1 0 4.6 0a2.3 2.3 0 1 0 -4.6 0ZM144.68 689.03a2.3 2.3 0 1 0 4.6 0a2.3 2.3 0 1 0 -4.6 0ZM159.17 682.33a2.3 2.3 0 1 0 4.6 0a2.3 2.3 0 1 0 -4.6 0ZM173.66 686.13a2.3 2.3 0 1 0 4.6 0a2.3 2.3 0 1 0 -4.6 0ZM188.15 700.57a2.3 2.3 0 1 0 4.6 0a2.3 2.3 0 1 0 -4.6 0ZM202.64 670.46a2.3 2.3 0 1 0 4.6 0a2.3 2.3 0 1 0 -4.6 0ZM217.13 652.54a2.3 2.3 0 1 0 4.6 0a2.3 2.3 0 1 0 -4.6 0ZM231.62 638.8a2.3 2.3 0 1 0 4.6 0a2.3 2.3 0 1 0 -4.6 0ZM246.11 627.13a2.3 2.3 0 1 0 4.6 0a2.3 2.3 0 1 0 -4.6 0ZM260.6 623.91a2.3 2.3 0 1 0 4.6 0a2.3 2.3 0 1 0 -4.6 0Z" fill="#000"/>
<path d="M89.02 697.29V701.16M86.62 701.16H91.42M103.51 693.87V697.74M101.11 697.74H105.91M118 690.9V694.13M115.6 694.13H120.4M132.49 687.16V690.39M130.09 690.39H134.89M146.98 681.42V684.65M144.58 684.65H149.38M161.47 676.52V679.75M159.07 679.75H163.87M175.96 677.49V680.72M173.56 680.72H178.36M190.45 704.38V708.25M188.05 708.25H192.85M204.94 677.49V682.65M202.54 682.65H207.34M219.43 660.92V667.37M217.03 667.37H221.83M233.92 649.25V656.99M231.52 656.99H236.32M248.41 642.67V653.96M246.01 653.96H250.81M262.9 633.39V645.38M260.5 645.38H265.3" stroke="#555" stroke-width="1" fill="none"/>
<path d="M89.02 697.29L103.51 693.87L118 690.9L132.49 687.16L146.98 681.42L161.47 676.52L175.96 677.49L190.45 704.38L204.94 677.49L219.43 660.92L233.92 649.25L248.41 642.67L262.9 633.39" stroke="#000" stroke-width="1.15" fill="none" stroke-linejoin="round"/>
<path d="M86.72 694.99h4.6v4.6h-4.6ZM101.21 691.57h4.6v4.6h-4.6ZM115.7 688.6h4.6v4.6h-4.6ZM130.19 684.86h4.6v4.6h-4.6ZM144.68 679.12h4.6v4.6h-4.6ZM159.17 674.22h4.6v4.6h-4.6ZM173.66 675.19h4.6v4.6h-4.6ZM188.15 702.08h4.6v4.6h-4.6ZM202.64 675.19h4.6v4.6h-4.6ZM217.13 658.62h4.6v4.6h-4.6ZM231.62 646.95h4.6v4.6h-4.6ZM246.11 640.37h4.6v4.6h-4.6ZM260.6 631.09h4.6v4.6h-4.6Z" fill="#000"/>
<path d="M89.02 689.03V692.9M86.62 689.03H91.42M103.51 690V693.87M101.11 690H105.91M118 689.68V692.9M115.6 689.68H120.4M132.49 684.91V688.13M130.09 684.91H134.89M146.98 680.07V683.29M144.58 680.07H149.38M161.47 674.27V677.49M159.07 674.27H163.87M175.96 682V685.23M173.56 682H178.36M190.45 694.45V697.67M188.05 694.45H192.85M204.94 677.75V682.91M202.54 677.75H207.34M219.43 648.73V655.18M217.03 648.73H221.83M233.92 625.97V633.71M231.52 625.97H236.32M248.41 614.88V622.62M246.01 614.88H250.81M262.9 605.02V614.04M260.5 605.02H265.3" stroke="#8a8a8a" stroke-width="1" fill="none"/>
<path d="M89.02 692.9L103.51 693.87L118 692.9L132.49 688.13L146.98 683.29L161.47 677.49L175.96 685.23L190.45 697.67L204.94 682.91L219.43 655.18L233.92 633.71L248.41 622.62L262.9 614.04" stroke="#8a8a8a" stroke-width="1.0" fill="none" stroke-linejoin="round"/>
<path d="M86.72 692.9a2.3 2.3 0 1 0 4.6 0a2.3 2.3 0 1 0 -4.6 0ZM101.21 693.87a2.3 2.3 0 1 0 4.6 0a2.3 2.3 0 1 0 -4.6 0ZM115.7 692.9a2.3 2.3 0 1 0 4.6 0a2.3 2.3 0 1 0 -4.6 0ZM130.19 688.13a2.3 2.3 0 1 0 4.6 0a2.3 2.3 0 1 0 -4.6 0ZM144.68 683.29a2.3 2.3 0 1 0 4.6 0a2.3 2.3 0 1 0 -4.6 0ZM159.17 677.49a2.3 2.3 0 1 0 4.6 0a2.3 2.3 0 1 0 -4.6 0ZM173.66 685.23a2.3 2.3 0 1 0 4.6 0a2.3 2.3 0 1 0 -4.6 0ZM188.15 697.67a2.3 2.3 0 1 0 4.6 0a2.3 2.3 0 1 0 -4.6 0ZM202.64 682.91a2.3 2.3 0 1 0 4.6 0a2.3 2.3 0 1 0 -4.6 0ZM217.13 655.18a2.3 2.3 0 1 0 4.6 0a2.3 2.3 0 1 0 -4.6 0ZM231.62 633.71a2.3 2.3 0 1 0 4.6 0a2.3 2.3 0 1 0 -4.6 0ZM246.11 622.62a2.3 2.3 0 1 0 4.6 0a2.3 2.3 0 1 0 -4.6 0ZM260.6 614.04a2.3 2.3 0 1 0 4.6 0a2.3 2.3 0 1 0 -4.6 0Z" fill="#707070"/>
<path d="M89.02 688V691.87M86.62 688H91.42M103.51 687.03V690.9M101.11 687.03H105.91M118 689.68V692.9M115.6 689.68H120.4M132.49 682V685.23M130.09 682H134.89M146.98 677.17V680.39M144.58 677.17H149.38M161.47 672.33V675.56M159.07 672.33H163.87M175.96 684.2V687.42M173.56 684.2H178.36M190.45 693.93V697.16M188.05 693.93H192.85M204.94 667.95V673.11M202.54 667.95H207.34M219.43 643.06V649.51M217.03 643.06H221.83M233.92 625.07V632.81M231.52 625.07H236.32M248.41 603.4V611.46M246.01 603.4H250.81M262.9 593.86V605.47M260.5 593.86H265.3" stroke="#8a8a8a" stroke-width="1" fill="none"/>
<path d="M89.02 691.87L103.51 690.9L118 692.9L132.49 685.23L146.98 680.39L161.47 675.56L175.96 687.42L190.45 697.16L204.94 673.11L219.43 649.51L233.92 632.81L248.41 611.46L262.9 605.47" stroke="#777" stroke-width="1.0" fill="none" stroke-linejoin="round"/>
<path d="M86.72 689.57h4.6v4.6h-4.6ZM101.21 688.6h4.6v4.6h-4.6ZM115.7 690.6h4.6v4.6h-4.6ZM130.19 682.93h4.6v4.6h-4.6ZM144.68 678.09h4.6v4.6h-4.6ZM159.17 673.26h4.6v4.6h-4.6ZM173.66 685.12h4.6v4.6h-4.6ZM188.15 694.86h4.6v4.6h-4.6ZM202.64 670.81h4.6v4.6h-4.6ZM217.13 647.21h4.6v4.6h-4.6ZM231.62 630.51h4.6v4.6h-4.6ZM246.11 609.16h4.6v4.6h-4.6ZM260.6 603.17h4.6v4.6h-4.6Z" fill="#666666"/>
<line x1="418.5" y1="236.8" x2="665.4" y2="236.8" stroke="#3a3a3a" stroke-width="1.25"/>
<line x1="423.3" y1="236.8" x2="423.3" y2="241.4" stroke="#3a3a3a" stroke-width="1.25"/>
<text x="417.23" y="253.9" font-size="11.3" font-weight="bold" fill="#000" textLength="12.57" lengthAdjust="spacingAndGlyphs" stroke="#000" stroke-width="0.2">20</text>
<line x1="471.6" y1="236.8" x2="471.6" y2="241.4" stroke="#3a3a3a" stroke-width="1.25"/>
<text x="465.64" y="253.9" font-size="11.3" font-weight="bold" fill="#000" textLength="12.57" lengthAdjust="spacingAndGlyphs" stroke="#000" stroke-width="0.2">40</text>
<line x1="519.9" y1="236.8" x2="519.9" y2="241.4" stroke="#3a3a3a" stroke-width="1.25"/>
<text x="513.77" y="253.9" font-size="11.3" font-weight="bold" fill="#000" textLength="12.57" lengthAdjust="spacingAndGlyphs" stroke="#000" stroke-width="0.2">60</text>
<line x1="568.2" y1="236.8" x2="568.2" y2="241.4" stroke="#3a3a3a" stroke-width="1.25"/>
<text x="562.13" y="253.9" font-size="11.3" font-weight="bold" fill="#000" textLength="12.57" lengthAdjust="spacingAndGlyphs" stroke="#000" stroke-width="0.2">80</text>
<line x1="616.5" y1="236.8" x2="616.5" y2="241.4" stroke="#3a3a3a" stroke-width="1.25"/>
<text x="607.15" y="253.9" font-size="11.3" font-weight="bold" fill="#000" textLength="18.85" lengthAdjust="spacingAndGlyphs" stroke="#000" stroke-width="0.2">100</text>
<line x1="664.8" y1="236.8" x2="664.8" y2="241.4" stroke="#3a3a3a" stroke-width="1.25"/>
<text x="655.45" y="253.9" font-size="11.3" font-weight="bold" fill="#000" textLength="18.85" lengthAdjust="spacingAndGlyphs" stroke="#000" stroke-width="0.2">120</text>
<line x1="423.3" y1="75.13" x2="423.3" y2="241.6" stroke="#3a3a3a" stroke-width="1.25"/>
<line x1="418.5" y1="236.8" x2="423.3" y2="236.8" stroke="#3a3a3a" stroke-width="1.25"/>
<text x="410.72" y="240.8" font-size="11.3" font-weight="bold" fill="#000" textLength="6.28" lengthAdjust="spacingAndGlyphs" stroke="#000" stroke-width="0.2">0</text>
<line x1="418.5" y1="213.79" x2="423.3" y2="213.79" stroke="#3a3a3a" stroke-width="1.25"/>
<text x="398.18" y="217.79" font-size="11.3" font-weight="bold" fill="#000" textLength="18.85" lengthAdjust="spacingAndGlyphs" stroke="#000" stroke-width="0.2">100</text>
<line x1="418.5" y1="190.78" x2="423.3" y2="190.78" stroke="#3a3a3a" stroke-width="1.25"/>
<text x="398.18" y="194.78" font-size="11.3" font-weight="bold" fill="#000" textLength="18.85" lengthAdjust="spacingAndGlyphs" stroke="#000" stroke-width="0.2">200</text>
<line x1="418.5" y1="167.77" x2="423.3" y2="167.77" stroke="#3a3a3a" stroke-width="1.25"/>
<text x="398.18" y="171.77" font-size="11.3" font-weight="bold" fill="#000" textLength="18.85" lengthAdjust="spacingAndGlyphs" stroke="#000" stroke-width="0.2">300</text>
<line x1="418.5" y1="144.76" x2="423.3" y2="144.76" stroke="#3a3a3a" stroke-width="1.25"/>
<text x="398.18" y="148.76" font-size="11.3" font-weight="bold" fill="#000" textLength="18.85" lengthAdjust="spacingAndGlyphs" stroke="#000" stroke-width="0.2">400</text>
<line x1="418.5" y1="121.75" x2="423.3" y2="121.75" stroke="#3a3a3a" stroke-width="1.25"/>
<text x="398.18" y="125.75" font-size="11.3" font-weight="bold" fill="#000" textLength="18.85" lengthAdjust="spacingAndGlyphs" stroke="#000" stroke-width="0.2">500</text>
<line x1="418.5" y1="98.74" x2="423.3" y2="98.74" stroke="#3a3a3a" stroke-width="1.25"/>
<text x="398.18" y="102.74" font-size="11.3" font-weight="bold" fill="#000" textLength="18.85" lengthAdjust="spacingAndGlyphs" stroke="#000" stroke-width="0.2">600</text>
<line x1="418.5" y1="75.73" x2="423.3" y2="75.73" stroke="#3a3a3a" stroke-width="1.25"/>
<text x="398.18" y="79.73" font-size="11.3" font-weight="bold" fill="#000" textLength="18.85" lengthAdjust="spacingAndGlyphs" stroke="#000" stroke-width="0.2">700</text>
<text x="389.6" y="206.84" font-size="13.7" font-weight="bold" fill="#000" textLength="100.28" lengthAdjust="spacingAndGlyphs" transform="rotate(-90 389.6 206.84)" stroke="#000" stroke-width="0.2">Body weight (g)</text>
<text x="510.3" y="272.3" font-size="13.7" font-weight="bold" fill="#000" textLength="67.68" lengthAdjust="spacingAndGlyphs" stroke="#000" stroke-width="0.2">Age (days)</text>
<path d="M432.96 226.1V227.02M430.56 227.02H435.36M440.21 222.3V223.38M437.81 223.38H442.61M447.45 218.51V219.73M445.05 219.73H449.85M454.69 214.71V216.09M452.3 216.09H457.09M461.94 209.19V210.72M459.54 210.72H464.34M469.19 203.67V205.35M466.79 205.35H471.58M476.43 198.14V199.98M474.03 199.98H478.83M483.68 191.78V193.77M481.28 193.77H486.07M490.92 185.41V187.56M488.52 187.56H493.32M498.17 179.04V181.35M495.77 181.35H500.56M505.41 173.6V176.05M503.01 176.05H507.81M512.65 168.15V170.76M510.25 170.76H515.05M519.9 162.71V165.47M517.5 165.47H522.3M527.14 158.57V161.44M524.75 161.44H529.54M534.39 154.42V157.42M531.99 157.42H536.79M541.63 150.28V153.39M539.24 153.39H544.03M548.88 147.52V150.74M546.48 150.74H551.28M556.12 144.76V148.1M553.73 148.1H558.52M563.37 141.77V145.22M560.97 145.22H565.77M570.62 138.78V142.34M568.22 142.34H573.01M577.86 136.25V139.93M575.46 139.93H580.26M585.11 133.72V137.51M582.71 137.51H587.5M592.35 131.93V135.84M589.95 135.84H594.75M599.6 130.15V134.18M597.2 134.18H602M606.84 128.48V132.62M604.44 132.62H609.24M614.09 126.81V131.07M611.69 131.07H616.49M621.33 125.78V130.15M618.93 130.15H623.73M628.58 124.74V129.23M626.18 129.23H630.98M635.82 122.76V127.36M633.42 127.36H638.22" stroke="#555" stroke-width="1" fill="none"/>
<path d="M432.96 226.1L440.21 222.3L447.45 218.51L454.69 214.71L461.94 209.19L469.19 203.67L476.43 198.14L483.68 191.78L490.92 185.41L498.17 179.04L505.41 173.6L512.65 168.15L519.9 162.71L527.14 158.57L534.39 154.42L541.63 150.28L548.88 147.52L556.12 144.76L563.37 141.77L570.62 138.78L577.86 136.25L585.11 133.72L592.35 131.93L599.6 130.15L606.84 128.48L614.09 126.81L621.33 125.78L628.58 124.74L635.82 122.76" stroke="#000" stroke-width="1.15" fill="none" stroke-linejoin="round"/>
<path d="M430.46 226.1a2.5 2.5 0 1 0 5 0a2.5 2.5 0 1 0 -5 0ZM437.71 222.3a2.5 2.5 0 1 0 5 0a2.5 2.5 0 1 0 -5 0ZM444.95 218.51a2.5 2.5 0 1 0 5 0a2.5 2.5 0 1 0 -5 0ZM452.19 214.71a2.5 2.5 0 1 0 5 0a2.5 2.5 0 1 0 -5 0ZM459.44 209.19a2.5 2.5 0 1 0 5 0a2.5 2.5 0 1 0 -5 0ZM466.69 203.67a2.5 2.5 0 1 0 5 0a2.5 2.5 0 1 0 -5 0ZM473.93 198.14a2.5 2.5 0 1 0 5 0a2.5 2.5 0 1 0 -5 0ZM481.18 191.78a2.5 2.5 0 1 0 5 0a2.5 2.5 0 1 0 -5 0ZM488.42 185.41a2.5 2.5 0 1 0 5 0a2.5 2.5 0 1 0 -5 0ZM495.67 179.04a2.5 2.5 0 1 0 5 0a2.5 2.5 0 1 0 -5 0ZM502.91 173.6a2.5 2.5 0 1 0 5 0a2.5 2.5 0 1 0 -5 0ZM510.15 168.15a2.5 2.5 0 1 0 5 0a2.5 2.5 0 1 0 -5 0ZM517.4 162.71a2.5 2.5 0 1 0 5 0a2.5 2.5 0 1 0 -5 0ZM524.64 158.57a2.5 2.5 0 1 0 5 0a2.5 2.5 0 1 0 -5 0ZM531.89 154.42a2.5 2.5 0 1 0 5 0a2.5 2.5 0 1 0 -5 0ZM539.13 150.28a2.5 2.5 0 1 0 5 0a2.5 2.5 0 1 0 -5 0ZM546.38 147.52a2.5 2.5 0 1 0 5 0a2.5 2.5 0 1 0 -5 0ZM553.62 144.76a2.5 2.5 0 1 0 5 0a2.5 2.5 0 1 0 -5 0ZM560.87 141.77a2.5 2.5 0 1 0 5 0a2.5 2.5 0 1 0 -5 0ZM568.12 138.78a2.5 2.5 0 1 0 5 0a2.5 2.5 0 1 0 -5 0ZM575.36 136.25a2.5 2.5 0 1 0 5 0a2.5 2.5 0 1 0 -5 0ZM582.61 133.72a2.5 2.5 0 1 0 5 0a2.5 2.5 0 1 0 -5 0ZM589.85 131.93a2.5 2.5 0 1 0 5 0a2.5 2.5 0 1 0 -5 0ZM597.1 130.15a2.5 2.5 0 1 0 5 0a2.5 2.5 0 1 0 -5 0ZM604.34 128.48a2.5 2.5 0 1 0 5 0a2.5 2.5 0 1 0 -5 0ZM611.59 126.81a2.5 2.5 0 1 0 5 0a2.5 2.5 0 1 0 -5 0ZM618.83 125.78a2.5 2.5 0 1 0 5 0a2.5 2.5 0 1 0 -5 0ZM626.08 124.74a2.5 2.5 0 1 0 5 0a2.5 2.5 0 1 0 -5 0ZM633.32 122.76a2.5 2.5 0 1 0 5 0a2.5 2.5 0 1 0 -5 0Z" fill="#000"/>
<path d="M432.96 223.91V224.83M430.56 223.91H435.36M440.21 219.29V220.39M437.81 219.29H442.61M447.45 214.67V215.94M445.05 214.67H449.85M454.69 210.05V211.49M452.3 210.05H457.09M461.94 203.67V205.28M459.54 203.67H464.34M469.19 197.28V199.06M466.79 197.28H471.58M476.43 190.9V192.85M474.03 190.9H478.83M483.68 183.82V185.95M481.28 183.82H486.07M490.92 176.74V179.04M488.52 176.74H493.32M498.17 169.67V172.14M495.77 169.67H500.56M505.41 163.59V166.24M503.01 163.59H507.81M512.65 157.51V160.33M510.25 157.51H515.05M519.9 151.43V154.42M517.5 151.43H522.3M527.14 147.22V150.28M524.75 147.22H529.54M534.39 143.01V146.14M531.99 143.01H536.79M541.63 137.64V140.85M539.24 137.64H544.03M548.88 134.35V137.63M546.48 134.35H551.28M556.12 131.05V134.41M553.73 131.05H558.52M563.37 128.45V131.87M560.97 128.45H565.77M570.62 125.85V129.34M568.22 125.85H573.01M577.86 123.48V127.04M575.46 123.48H580.26M585.11 121.1V124.74M582.71 121.1H587.5M592.35 119.08V122.79M589.95 119.08H594.75M599.6 117.05V120.83M597.2 117.05H602M606.84 114.9V118.76M604.44 114.9H609.24M614.09 112.76V116.69M611.69 112.76H616.49M621.33 111.19V115.19M618.93 111.19H623.73M628.58 109.63V113.7M626.18 109.63H630.98M635.82 107.71V111.86M633.42 107.71H638.22" stroke="#555" stroke-width="1" fill="none"/>
<path d="M432.96 224.83L440.21 220.39L447.45 215.94L454.69 211.49L461.94 205.28L469.19 199.06L476.43 192.85L483.68 185.95L490.92 179.04L498.17 172.14L505.41 166.24L512.65 160.33L519.9 154.42L527.14 150.28L534.39 146.14L541.63 140.85L548.88 137.63L556.12 134.41L563.37 131.87L570.62 129.34L577.86 127.04L585.11 124.74L592.35 122.79L599.6 120.83L606.84 118.76L614.09 116.69L621.33 115.19L628.58 113.7L635.82 111.86" stroke="#000" stroke-width="1.15" fill="none" stroke-linejoin="round"/>
<path d="M430.46 222.33h5v5h-5ZM437.71 217.89h5v5h-5ZM444.95 213.44h5v5h-5ZM452.19 208.99h5v5h-5ZM459.44 202.78h5v5h-5ZM466.69 196.56h5v5h-5ZM473.93 190.35h5v5h-5ZM481.18 183.45h5v5h-5ZM488.42 176.54h5v5h-5ZM495.67 169.64h5v5h-5ZM502.91 163.74h5v5h-5ZM510.15 157.83h5v5h-5ZM517.4 151.92h5v5h-5ZM524.64 147.78h5v5h-5ZM531.89 143.64h5v5h-5ZM539.13 138.35h5v5h-5ZM546.38 135.13h5v5h-5ZM553.62 131.91h5v5h-5ZM560.87 129.37h5v5h-5ZM568.12 126.84h5v5h-5ZM575.36 124.54h5v5h-5ZM582.61 122.24h5v5h-5ZM589.85 120.29h5v5h-5ZM597.1 118.33h5v5h-5ZM604.34 116.26h5v5h-5ZM611.59 114.19h5v5h-5ZM618.83 112.69h5v5h-5ZM626.08 111.2h5v5h-5ZM633.32 109.36h5v5h-5Z" fill="#000"/>
<path d="M432.96 222.53V224.83M430.56 222.53H435.36M440.21 219.45V221.96M437.81 219.45H442.61M447.45 214.75V217.47M445.05 214.75H449.85M454.69 207.04V209.97M452.3 207.04H457.09M461.94 201.21V204.36M459.54 201.21H464.34M469.19 194.19V197.54M466.79 194.19H471.58M476.43 187.44V191.01M474.03 187.44H478.83M483.68 179.87V183.65M481.28 179.87H486.07M490.92 172.3V176.28M488.52 172.3H493.32M498.17 165.53V169.73M495.77 165.53H500.56M505.41 158.53V162.94M503.01 158.53H507.81M512.65 151.41V156.03M510.25 151.41H515.05M519.9 145.68V150.51M517.5 145.68H522.3M527.14 140.27V145.22M524.75 140.27H529.54M534.39 134.96V140.02M531.99 134.96H536.79M541.63 131.3V136.48M539.24 131.3H544.03M548.88 127.39V132.68M546.48 127.39H551.28M556.12 123.48V128.88M553.73 123.48H558.52M563.37 120.6V126.12M560.97 120.6H565.77M570.62 117.72V123.36M568.22 117.72H573.01M577.86 114.39V120.14M575.46 114.39H580.26M585.11 111.05V116.92M582.71 111.05H587.5M592.35 108.4V114.39M589.95 108.4H594.75M599.6 105.76V111.86M597.2 105.76H602M606.84 103.46V109.67M604.44 103.46H609.24M614.09 101.16V107.48M611.69 101.16H616.49M621.33 98.74V105.18M618.93 98.74H623.73M628.58 96.32V102.88M626.18 96.32H630.98M635.82 94.23V100.9M633.42 94.23H638.22" stroke="#8a8a8a" stroke-width="1" fill="none"/>
<path d="M432.96 224.83L440.21 221.96L447.45 217.47L454.69 209.97L461.94 204.36L469.19 197.54L476.43 191.01L483.68 183.65L490.92 176.28L498.17 169.73L505.41 162.94L512.65 156.03L519.9 150.51L527.14 145.22L534.39 140.02L541.63 136.48L548.88 132.68L556.12 128.88L563.37 126.12L570.62 123.36L577.86 120.14L585.11 116.92L592.35 114.39L599.6 111.86L606.84 109.67L614.09 107.48L621.33 105.18L628.58 102.88L635.82 100.9" stroke="#5e5e5e" stroke-width="1.0" fill="none" stroke-linejoin="round"/>
<path d="M430.46 224.83a2.5 2.5 0 1 0 5 0a2.5 2.5 0 1 0 -5 0ZM437.71 221.96a2.5 2.5 0 1 0 5 0a2.5 2.5 0 1 0 -5 0ZM444.95 217.47a2.5 2.5 0 1 0 5 0a2.5 2.5 0 1 0 -5 0ZM452.19 209.97a2.5 2.5 0 1 0 5 0a2.5 2.5 0 1 0 -5 0ZM459.44 204.36a2.5 2.5 0 1 0 5 0a2.5 2.5 0 1 0 -5 0ZM466.69 197.54a2.5 2.5 0 1 0 5 0a2.5 2.5 0 1 0 -5 0ZM473.93 191.01a2.5 2.5 0 1 0 5 0a2.5 2.5 0 1 0 -5 0ZM481.18 183.65a2.5 2.5 0 1 0 5 0a2.5 2.5 0 1 0 -5 0ZM488.42 176.28a2.5 2.5 0 1 0 5 0a2.5 2.5 0 1 0 -5 0ZM495.67 169.73a2.5 2.5 0 1 0 5 0a2.5 2.5 0 1 0 -5 0ZM502.91 162.94a2.5 2.5 0 1 0 5 0a2.5 2.5 0 1 0 -5 0ZM510.15 156.03a2.5 2.5 0 1 0 5 0a2.5 2.5 0 1 0 -5 0ZM517.4 150.51a2.5 2.5 0 1 0 5 0a2.5 2.5 0 1 0 -5 0ZM524.64 145.22a2.5 2.5 0 1 0 5 0a2.5 2.5 0 1 0 -5 0ZM531.89 140.02a2.5 2.5 0 1 0 5 0a2.5 2.5 0 1 0 -5 0ZM539.13 136.48a2.5 2.5 0 1 0 5 0a2.5 2.5 0 1 0 -5 0ZM546.38 132.68a2.5 2.5 0 1 0 5 0a2.5 2.5 0 1 0 -5 0ZM553.62 128.88a2.5 2.5 0 1 0 5 0a2.5 2.5 0 1 0 -5 0ZM560.87 126.12a2.5 2.5 0 1 0 5 0a2.5 2.5 0 1 0 -5 0ZM568.12 123.36a2.5 2.5 0 1 0 5 0a2.5 2.5 0 1 0 -5 0ZM575.36 120.14a2.5 2.5 0 1 0 5 0a2.5 2.5 0 1 0 -5 0ZM582.61 116.92a2.5 2.5 0 1 0 5 0a2.5 2.5 0 1 0 -5 0ZM589.85 114.39a2.5 2.5 0 1 0 5 0a2.5 2.5 0 1 0 -5 0ZM597.1 111.86a2.5 2.5 0 1 0 5 0a2.5 2.5 0 1 0 -5 0ZM604.34 109.67a2.5 2.5 0 1 0 5 0a2.5 2.5 0 1 0 -5 0ZM611.59 107.48a2.5 2.5 0 1 0 5 0a2.5 2.5 0 1 0 -5 0ZM618.83 105.18a2.5 2.5 0 1 0 5 0a2.5 2.5 0 1 0 -5 0ZM626.08 102.88a2.5 2.5 0 1 0 5 0a2.5 2.5 0 1 0 -5 0ZM633.32 100.9a2.5 2.5 0 1 0 5 0a2.5 2.5 0 1 0 -5 0Z" fill="#707070"/>
<path d="M432.96 222.53V223.68M430.56 222.53H435.36M440.21 219.45V220.81M437.81 219.45H442.61M447.45 214.75V216.32M445.05 214.75H449.85M454.69 207.04V208.82M452.3 207.04H457.09M461.94 201.21V203.21M459.54 201.21H464.34M469.19 194.19V196.39M466.79 194.19H471.58M476.43 187.44V189.86M474.03 187.44H478.83M483.68 179.87V182.5M481.28 179.87H486.07M490.92 172.3V175.13M488.52 172.3H493.32M498.17 165.53V168.58M495.77 165.53H500.56M505.41 158.53V161.79M503.01 158.53H507.81M512.65 151.41V154.88M510.25 151.41H515.05M519.9 145.68V149.36M517.5 145.68H522.3M527.14 140.27V144.07M524.75 140.27H529.54M534.39 134.96V138.87M531.99 134.96H536.79M541.63 131.3V135.33M539.24 131.3H544.03M548.88 127.39V131.53M546.48 127.39H551.28M556.12 123.48V127.73M553.73 123.48H558.52M563.37 120.6V124.97M560.97 120.6H565.77M570.62 117.72V122.21M568.22 117.72H573.01M577.86 114.39V118.99M575.46 114.39H580.26M585.11 111.05V115.77M582.71 111.05H587.5M592.35 108.4V113.24M589.95 108.4H594.75M599.6 105.76V110.71M597.2 105.76H602M606.84 103.46V108.52M604.44 103.46H609.24M614.09 101.16V106.33M611.69 101.16H616.49M621.33 98.74V104.03M618.93 98.74H623.73M628.58 96.32V101.73M626.18 96.32H630.98M635.82 94.23V99.75M633.42 94.23H638.22" stroke="#8a8a8a" stroke-width="1" fill="none"/>
<path d="M432.96 223.68L440.21 220.81L447.45 216.32L454.69 208.82L461.94 203.21L469.19 196.39L476.43 189.86L483.68 182.5L490.92 175.13L498.17 168.58L505.41 161.79L512.65 154.88L519.9 149.36L527.14 144.07L534.39 138.87L541.63 135.33L548.88 131.53L556.12 127.73L563.37 124.97L570.62 122.21L577.86 118.99L585.11 115.77L592.35 113.24L599.6 110.71L606.84 108.52L614.09 106.33L621.33 104.03L628.58 101.73L635.82 99.75" stroke="#5e5e5e" stroke-width="1.0" fill="none" stroke-linejoin="round"/>
<path d="M430.46 221.18h5v5h-5ZM437.71 218.31h5v5h-5ZM444.95 213.82h5v5h-5ZM452.19 206.32h5v5h-5ZM459.44 200.71h5v5h-5ZM466.69 193.89h5v5h-5ZM473.93 187.36h5v5h-5ZM481.18 180h5v5h-5ZM488.42 172.63h5v5h-5ZM495.67 166.08h5v5h-5ZM502.91 159.29h5v5h-5ZM510.15 152.38h5v5h-5ZM517.4 146.86h5v5h-5ZM524.64 141.57h5v5h-5ZM531.89 136.37h5v5h-5ZM539.13 132.83h5v5h-5ZM546.38 129.03h5v5h-5ZM553.62 125.23h5v5h-5ZM560.87 122.47h5v5h-5ZM568.12 119.71h5v5h-5ZM575.36 116.49h5v5h-5ZM582.61 113.27h5v5h-5ZM589.85 110.74h5v5h-5ZM597.1 108.21h5v5h-5ZM604.34 106.02h5v5h-5ZM611.59 103.83h5v5h-5ZM618.83 101.53h5v5h-5ZM626.08 99.23h5v5h-5ZM633.32 97.25h5v5h-5Z" fill="#666666"/>
<path d="M641.7 98.3H650.3V124.2H641.7" stroke="#3a3a3a" stroke-width="1.25" fill="none" stroke-linejoin="round"/>
<path d="M656.4 109.7L657.06 111.29L658.78 111.43L657.47 112.55L657.87 114.22L656.4 113.33L654.93 114.22L655.33 112.55L654.02 111.43L655.74 111.29Z" fill="#000"/>
<line x1="413.2" y1="484" x2="660.4" y2="484" stroke="#3a3a3a" stroke-width="1.25"/>
<line x1="418" y1="484" x2="418" y2="488.6" stroke="#3a3a3a" stroke-width="1.25"/>
<text x="411.93" y="501.1" font-size="11.3" font-weight="bold" fill="#000" textLength="12.57" lengthAdjust="spacingAndGlyphs" stroke="#000" stroke-width="0.2">20</text>
<line x1="466.36" y1="484" x2="466.36" y2="488.6" stroke="#3a3a3a" stroke-width="1.25"/>
<text x="460.4" y="501.1" font-size="11.3" font-weight="bold" fill="#000" textLength="12.57" lengthAdjust="spacingAndGlyphs" stroke="#000" stroke-width="0.2">40</text>
<line x1="514.72" y1="484" x2="514.72" y2="488.6" stroke="#3a3a3a" stroke-width="1.25"/>
<text x="508.59" y="501.1" font-size="11.3" font-weight="bold" fill="#000" textLength="12.57" lengthAdjust="spacingAndGlyphs" stroke="#000" stroke-width="0.2">60</text>
<line x1="563.08" y1="484" x2="563.08" y2="488.6" stroke="#3a3a3a" stroke-width="1.25"/>
<text x="557.01" y="501.1" font-size="11.3" font-weight="bold" fill="#000" textLength="12.57" lengthAdjust="spacingAndGlyphs" stroke="#000" stroke-width="0.2">80</text>
<line x1="611.44" y1="484" x2="611.44" y2="488.6" stroke="#3a3a3a" stroke-width="1.25"/>
<text x="602.09" y="501.1" font-size="11.3" font-weight="bold" fill="#000" textLength="18.85" lengthAdjust="spacingAndGlyphs" stroke="#000" stroke-width="0.2">100</text>
<line x1="659.8" y1="484" x2="659.8" y2="488.6" stroke="#3a3a3a" stroke-width="1.25"/>
<text x="650.45" y="501.1" font-size="11.3" font-weight="bold" fill="#000" textLength="18.85" lengthAdjust="spacingAndGlyphs" stroke="#000" stroke-width="0.2">120</text>
<line x1="418" y1="322.2" x2="418" y2="488.8" stroke="#3a3a3a" stroke-width="1.25"/>
<line x1="413.2" y1="484" x2="418" y2="484" stroke="#3a3a3a" stroke-width="1.25"/>
<text x="405.42" y="488" font-size="11.3" font-weight="bold" fill="#000" textLength="6.28" lengthAdjust="spacingAndGlyphs" stroke="#000" stroke-width="0.2">0</text>
<line x1="413.2" y1="443.7" x2="418" y2="443.7" stroke="#3a3a3a" stroke-width="1.25"/>
<text x="399.1" y="447.7" font-size="11.3" font-weight="bold" fill="#000" textLength="12.57" lengthAdjust="spacingAndGlyphs" stroke="#000" stroke-width="0.2">10</text>
<line x1="413.2" y1="403.4" x2="418" y2="403.4" stroke="#3a3a3a" stroke-width="1.25"/>
<text x="399.1" y="407.4" font-size="11.3" font-weight="bold" fill="#000" textLength="12.57" lengthAdjust="spacingAndGlyphs" stroke="#000" stroke-width="0.2">20</text>
<line x1="413.2" y1="363.1" x2="418" y2="363.1" stroke="#3a3a3a" stroke-width="1.25"/>
<text x="399.1" y="367.1" font-size="11.3" font-weight="bold" fill="#000" textLength="12.57" lengthAdjust="spacingAndGlyphs" stroke="#000" stroke-width="0.2">30</text>
<line x1="413.2" y1="322.8" x2="418" y2="322.8" stroke="#3a3a3a" stroke-width="1.25"/>
<text x="399.1" y="326.8" font-size="11.3" font-weight="bold" fill="#000" textLength="12.57" lengthAdjust="spacingAndGlyphs" stroke="#000" stroke-width="0.2">40</text>
<text x="389.8" y="464.73" font-size="13.7" font-weight="bold" fill="#000" textLength="121.47" lengthAdjust="spacingAndGlyphs" transform="rotate(-90 389.8 464.73)" stroke="#000" stroke-width="0.2">Food intake (g/day)</text>
<text x="505.5" y="519.6" font-size="13.7" font-weight="bold" fill="#000" textLength="67.48" lengthAdjust="spacingAndGlyphs" stroke="#000" stroke-width="0.2">Age (days)</text>
<path d="M434.93 444.1V447.33M432.53 447.33H437.33M442.18 432.01V435.24M439.78 435.24H444.58M449.43 428.39V431.61M447.03 431.61H451.83M456.69 420.33V423.55M454.29 423.55H459.09M463.94 406.62V409.85M461.54 409.85H466.34M471.2 397.36V400.58M468.8 400.58H473.6M478.45 388.09V391.31M476.05 391.31H480.85M485.7 380.43V383.65M483.3 383.65H488.1M492.96 375.59V378.82M490.56 378.82H495.36M500.21 369.95V373.18M497.81 373.18H502.61M507.47 369.95V373.18M505.07 373.18H509.87M514.72 368.34V371.56M512.32 371.56H517.12M521.97 367.94V371.16M519.57 371.16H524.37M529.23 368.74V371.97M526.83 371.97H531.63M536.48 369.95V373.18M534.08 373.18H538.88M543.74 372.37V375.59M541.34 375.59H546.14M550.99 369.55V372.77M548.59 372.77H553.39M558.24 370.35V373.58M555.84 373.58H560.64M565.5 365.12V368.34M563.1 368.34H567.9M572.75 366.32V369.55M570.35 369.55H575.15M580.01 369.14V372.37M577.61 372.37H582.41M587.26 364.31V367.53M584.86 367.53H589.66M594.51 364.31V367.53M592.11 367.53H596.91M601.77 374.38V377.61M599.37 377.61H604.17M609.02 376.4V379.62M606.62 379.62H611.42M616.28 374.38V377.61M613.88 377.61H618.68M623.53 379.22V382.44M621.13 382.44H625.93M630.78 374.38V377.61M628.38 377.61H633.18" stroke="#555" stroke-width="1" fill="none"/>
<path d="M434.93 444.1L442.18 432.01L449.43 428.39L456.69 420.33L463.94 406.62L471.2 397.36L478.45 388.09L485.7 380.43L492.96 375.59L500.21 369.95L507.47 369.95L514.72 368.34L521.97 367.94L529.23 368.74L536.48 369.95L543.74 372.37L550.99 369.55L558.24 370.35L565.5 365.12L572.75 366.32L580.01 369.14L587.26 364.31L594.51 364.31L601.77 374.38L609.02 376.4L616.28 374.38L623.53 379.22L630.78 374.38" stroke="#000" stroke-width="1.15" fill="none" stroke-linejoin="round"/>
<path d="M432.48 444.1a2.45 2.45 0 1 0 4.9 0a2.45 2.45 0 1 0 -4.9 0ZM439.73 432.01a2.45 2.45 0 1 0 4.9 0a2.45 2.45 0 1 0 -4.9 0ZM446.98 428.39a2.45 2.45 0 1 0 4.9 0a2.45 2.45 0 1 0 -4.9 0ZM454.24 420.33a2.45 2.45 0 1 0 4.9 0a2.45 2.45 0 1 0 -4.9 0ZM461.49 406.62a2.45 2.45 0 1 0 4.9 0a2.45 2.45 0 1 0 -4.9 0ZM468.75 397.36a2.45 2.45 0 1 0 4.9 0a2.45 2.45 0 1 0 -4.9 0ZM476 388.09a2.45 2.45 0 1 0 4.9 0a2.45 2.45 0 1 0 -4.9 0ZM483.25 380.43a2.45 2.45 0 1 0 4.9 0a2.45 2.45 0 1 0 -4.9 0ZM490.51 375.59a2.45 2.45 0 1 0 4.9 0a2.45 2.45 0 1 0 -4.9 0ZM497.76 369.95a2.45 2.45 0 1 0 4.9 0a2.45 2.45 0 1 0 -4.9 0ZM505.02 369.95a2.45 2.45 0 1 0 4.9 0a2.45 2.45 0 1 0 -4.9 0ZM512.27 368.34a2.45 2.45 0 1 0 4.9 0a2.45 2.45 0 1 0 -4.9 0ZM519.52 367.94a2.45 2.45 0 1 0 4.9 0a2.45 2.45 0 1 0 -4.9 0ZM526.78 368.74a2.45 2.45 0 1 0 4.9 0a2.45 2.45 0 1 0 -4.9 0ZM534.03 369.95a2.45 2.45 0 1 0 4.9 0a2.45 2.45 0 1 0 -4.9 0ZM541.29 372.37a2.45 2.45 0 1 0 4.9 0a2.45 2.45 0 1 0 -4.9 0ZM548.54 369.55a2.45 2.45 0 1 0 4.9 0a2.45 2.45 0 1 0 -4.9 0ZM555.79 370.35a2.45 2.45 0 1 0 4.9 0a2.45 2.45 0 1 0 -4.9 0ZM563.05 365.12a2.45 2.45 0 1 0 4.9 0a2.45 2.45 0 1 0 -4.9 0ZM570.3 366.32a2.45 2.45 0 1 0 4.9 0a2.45 2.45 0 1 0 -4.9 0ZM577.56 369.14a2.45 2.45 0 1 0 4.9 0a2.45 2.45 0 1 0 -4.9 0ZM584.81 364.31a2.45 2.45 0 1 0 4.9 0a2.45 2.45 0 1 0 -4.9 0ZM592.06 364.31a2.45 2.45 0 1 0 4.9 0a2.45 2.45 0 1 0 -4.9 0ZM599.32 374.38a2.45 2.45 0 1 0 4.9 0a2.45 2.45 0 1 0 -4.9 0ZM606.57 376.4a2.45 2.45 0 1 0 4.9 0a2.45 2.45 0 1 0 -4.9 0ZM613.83 374.38a2.45 2.45 0 1 0 4.9 0a2.45 2.45 0 1 0 -4.9 0ZM621.08 379.22a2.45 2.45 0 1 0 4.9 0a2.45 2.45 0 1 0 -4.9 0ZM628.33 374.38a2.45 2.45 0 1 0 4.9 0a2.45 2.45 0 1 0 -4.9 0Z" fill="#000"/>
<path d="M434.93 438.86V441.69M432.53 438.86H437.33M442.18 427.18V430M439.78 427.18H444.58M449.43 421.13V423.95M447.03 421.13H451.83M456.69 408.24V411.06M454.29 408.24H459.09M463.94 394.53V397.36M461.54 394.53H466.34M471.2 386.47V389.29M468.8 386.47H473.6M478.45 378.41V381.24M476.05 378.41H480.85M485.7 370.76V373.58M483.3 370.76H488.1M492.96 367.13V369.95M490.56 367.13H495.36M500.21 360.28V363.1M497.81 360.28H502.61M507.47 364.71V367.53M505.07 364.71H509.87M514.72 359.07V361.89M512.32 359.07H517.12M521.97 359.07V361.89M519.57 359.07H524.37M529.23 360.68V363.5M526.83 360.68H531.63M536.48 358.67V361.49M534.08 358.67H538.88M543.74 356.25V359.07M541.34 356.25H546.14M550.99 361.49V364.31M548.59 361.49H553.39M558.24 357.46V360.28M555.84 357.46H560.64M565.5 359.07V361.89M563.1 359.07H567.9M572.75 361.89V364.71M570.35 361.89H575.15M580.01 361.49V364.31M577.61 361.49H582.41M587.26 360.28V363.1M584.86 360.28H589.66M594.51 360.28V363.1M592.11 360.28H596.91M601.77 363.91V366.73M599.37 363.91H604.17M609.02 365.92V368.74M606.62 365.92H611.42M616.28 361.89V364.71M613.88 361.89H618.68M623.53 362.7V365.52M621.13 362.7H625.93M630.78 361.89V364.71M628.38 361.89H633.18" stroke="#555" stroke-width="1" fill="none"/>
<path d="M434.93 441.69L442.18 430L449.43 423.95L456.69 411.06L463.94 397.36L471.2 389.29L478.45 381.24L485.7 373.58L492.96 369.95L500.21 363.1L507.47 367.53L514.72 361.89L521.97 361.89L529.23 363.5L536.48 361.49L543.74 359.07L550.99 364.31L558.24 360.28L565.5 361.89L572.75 364.71L580.01 364.31L587.26 363.1L594.51 363.1L601.77 366.73L609.02 368.74L616.28 364.71L623.53 365.52L630.78 364.71" stroke="#000" stroke-width="1.15" fill="none" stroke-linejoin="round"/>
<path d="M432.48 439.24h4.9v4.9h-4.9ZM439.73 427.55h4.9v4.9h-4.9ZM446.98 421.5h4.9v4.9h-4.9ZM454.24 408.61h4.9v4.9h-4.9ZM461.49 394.91h4.9v4.9h-4.9ZM468.75 386.84h4.9v4.9h-4.9ZM476 378.79h4.9v4.9h-4.9ZM483.25 371.13h4.9v4.9h-4.9ZM490.51 367.5h4.9v4.9h-4.9ZM497.76 360.65h4.9v4.9h-4.9ZM505.02 365.08h4.9v4.9h-4.9ZM512.27 359.44h4.9v4.9h-4.9ZM519.52 359.44h4.9v4.9h-4.9ZM526.78 361.05h4.9v4.9h-4.9ZM534.03 359.04h4.9v4.9h-4.9ZM541.29 356.62h4.9v4.9h-4.9ZM548.54 361.86h4.9v4.9h-4.9ZM555.79 357.83h4.9v4.9h-4.9ZM563.05 359.44h4.9v4.9h-4.9ZM570.3 362.26h4.9v4.9h-4.9ZM577.56 361.86h4.9v4.9h-4.9ZM584.81 360.65h4.9v4.9h-4.9ZM592.06 360.65h4.9v4.9h-4.9ZM599.32 364.28h4.9v4.9h-4.9ZM606.57 366.29h4.9v4.9h-4.9ZM613.83 362.26h4.9v4.9h-4.9ZM621.08 363.07h4.9v4.9h-4.9ZM628.33 362.26h4.9v4.9h-4.9Z" fill="#000"/>
<path d="M434.93 437.65V441.28M432.53 437.65H437.33M442.18 427.18V430.8M439.78 427.18H444.58M449.43 419.92V423.55M447.03 419.92H451.83M456.69 405.41V409.04M454.29 405.41H459.09M463.94 391.71V395.34M461.54 391.71H466.34M471.2 381.64V385.26M468.8 381.64H473.6M478.45 373.18V376.8M476.05 373.18H480.85M485.7 366.32V369.95M483.3 366.32H488.1M492.96 359.88V363.5M490.56 359.88H495.36M500.21 352.62V356.25M497.81 352.62H502.61M507.47 351.41V355.04M505.07 351.41H509.87M514.72 350.61V354.23M512.32 350.61H517.12M521.97 350.61V354.23M519.57 350.61H524.37M529.23 350.2V353.83M526.83 350.2H531.63M536.48 350.2V353.83M534.08 350.2H538.88M543.74 348.99V352.62M541.34 348.99H546.14M550.99 348.19V351.82M548.59 348.19H553.39M558.24 350.2V353.83M555.84 350.2H560.64M565.5 350.2V353.83M563.1 350.2H567.9M572.75 349.8V353.43M570.35 349.8H575.15M580.01 346.98V350.61M577.61 346.98H582.41M587.26 349.4V353.02M584.86 349.4H589.66M594.51 349.4V353.02M592.11 349.4H596.91M601.77 351.82V355.44M599.37 351.82H604.17M609.02 354.64V358.26M606.62 354.64H611.42M616.28 353.43V357.06M613.88 353.43H618.68M623.53 352.22V355.85M621.13 352.22H625.93M630.78 348.99V352.62M628.38 348.99H633.18" stroke="#8a8a8a" stroke-width="1" fill="none"/>
<path d="M434.93 441.28L442.18 430.8L449.43 423.55L456.69 409.04L463.94 395.34L471.2 385.26L478.45 376.8L485.7 369.95L492.96 363.5L500.21 356.25L507.47 355.04L514.72 354.23L521.97 354.23L529.23 353.83L536.48 353.83L543.74 352.62L550.99 351.82L558.24 353.83L565.5 353.83L572.75 353.43L580.01 350.61L587.26 353.02L594.51 353.02L601.77 355.44L609.02 358.26L616.28 357.06L623.53 355.85L630.78 352.62" stroke="#5e5e5e" stroke-width="1.0" fill="none" stroke-linejoin="round"/>
<path d="M432.48 441.28a2.45 2.45 0 1 0 4.9 0a2.45 2.45 0 1 0 -4.9 0ZM439.73 430.8a2.45 2.45 0 1 0 4.9 0a2.45 2.45 0 1 0 -4.9 0ZM446.98 423.55a2.45 2.45 0 1 0 4.9 0a2.45 2.45 0 1 0 -4.9 0ZM454.24 409.04a2.45 2.45 0 1 0 4.9 0a2.45 2.45 0 1 0 -4.9 0ZM461.49 395.34a2.45 2.45 0 1 0 4.9 0a2.45 2.45 0 1 0 -4.9 0ZM468.75 385.26a2.45 2.45 0 1 0 4.9 0a2.45 2.45 0 1 0 -4.9 0ZM476 376.8a2.45 2.45 0 1 0 4.9 0a2.45 2.45 0 1 0 -4.9 0ZM483.25 369.95a2.45 2.45 0 1 0 4.9 0a2.45 2.45 0 1 0 -4.9 0ZM490.51 363.5a2.45 2.45 0 1 0 4.9 0a2.45 2.45 0 1 0 -4.9 0ZM497.76 356.25a2.45 2.45 0 1 0 4.9 0a2.45 2.45 0 1 0 -4.9 0ZM505.02 355.04a2.45 2.45 0 1 0 4.9 0a2.45 2.45 0 1 0 -4.9 0ZM512.27 354.23a2.45 2.45 0 1 0 4.9 0a2.45 2.45 0 1 0 -4.9 0ZM519.52 354.23a2.45 2.45 0 1 0 4.9 0a2.45 2.45 0 1 0 -4.9 0ZM526.78 353.83a2.45 2.45 0 1 0 4.9 0a2.45 2.45 0 1 0 -4.9 0ZM534.03 353.83a2.45 2.45 0 1 0 4.9 0a2.45 2.45 0 1 0 -4.9 0ZM541.29 352.62a2.45 2.45 0 1 0 4.9 0a2.45 2.45 0 1 0 -4.9 0ZM548.54 351.82a2.45 2.45 0 1 0 4.9 0a2.45 2.45 0 1 0 -4.9 0ZM555.79 353.83a2.45 2.45 0 1 0 4.9 0a2.45 2.45 0 1 0 -4.9 0ZM563.05 353.83a2.45 2.45 0 1 0 4.9 0a2.45 2.45 0 1 0 -4.9 0ZM570.3 353.43a2.45 2.45 0 1 0 4.9 0a2.45 2.45 0 1 0 -4.9 0ZM577.56 350.61a2.45 2.45 0 1 0 4.9 0a2.45 2.45 0 1 0 -4.9 0ZM584.81 353.02a2.45 2.45 0 1 0 4.9 0a2.45 2.45 0 1 0 -4.9 0ZM592.06 353.02a2.45 2.45 0 1 0 4.9 0a2.45 2.45 0 1 0 -4.9 0ZM599.32 355.44a2.45 2.45 0 1 0 4.9 0a2.45 2.45 0 1 0 -4.9 0ZM606.57 358.26a2.45 2.45 0 1 0 4.9 0a2.45 2.45 0 1 0 -4.9 0ZM613.83 357.06a2.45 2.45 0 1 0 4.9 0a2.45 2.45 0 1 0 -4.9 0ZM621.08 355.85a2.45 2.45 0 1 0 4.9 0a2.45 2.45 0 1 0 -4.9 0ZM628.33 352.62a2.45 2.45 0 1 0 4.9 0a2.45 2.45 0 1 0 -4.9 0Z" fill="#707070"/>
<path d="M434.93 436.45V440.07M432.53 436.45H437.33M442.18 425.56V429.19M439.78 425.56H444.58M449.43 418.71V422.34M447.03 418.71H451.83M456.69 403.4V407.03M454.29 403.4H459.09M463.94 389.29V392.92M461.54 389.29H466.34M471.2 380.03V383.65M468.8 380.03H473.6M478.45 371.16V374.79M476.05 371.16H480.85M485.7 364.71V368.34M483.3 364.71H488.1M492.96 358.26V361.89M490.56 358.26H495.36M500.21 351.01V354.64M497.81 351.01H502.61M507.47 348.59V352.22M505.07 348.59H509.87M514.72 349.4V353.02M512.32 349.4H517.12M521.97 349.4V353.02M519.57 349.4H524.37M529.23 350.2V353.83M526.83 350.2H531.63M536.48 349.8V353.43M534.08 349.8H538.88M543.74 348.19V351.82M541.34 348.19H546.14M550.99 349.8V353.43M548.59 349.8H553.39M558.24 348.19V351.82M555.84 348.19H560.64M565.5 349.8V353.43M563.1 349.8H567.9M572.75 349.8V353.43M570.35 349.8H575.15M580.01 350.2V353.83M577.61 350.2H582.41M587.26 348.99V352.62M584.86 348.99H589.66M594.51 349.8V353.43M592.11 349.8H596.91M601.77 353.43V357.06M599.37 353.43H604.17M609.02 359.88V363.5M606.62 359.88H611.42M616.28 354.64V358.26M613.88 354.64H618.68M623.53 361.89V365.52M621.13 361.89H625.93M630.78 356.65V360.28M628.38 356.65H633.18" stroke="#8a8a8a" stroke-width="1" fill="none"/>
<path d="M434.93 440.07L442.18 429.19L449.43 422.34L456.69 407.03L463.94 392.92L471.2 383.65L478.45 374.79L485.7 368.34L492.96 361.89L500.21 354.64L507.47 352.22L514.72 353.02L521.97 353.02L529.23 353.83L536.48 353.43L543.74 351.82L550.99 353.43L558.24 351.82L565.5 353.43L572.75 353.43L580.01 353.83L587.26 352.62L594.51 353.43L601.77 357.06L609.02 363.5L616.28 358.26L623.53 365.52L630.78 360.28" stroke="#5e5e5e" stroke-width="1.0" fill="none" stroke-linejoin="round"/>
<path d="M432.48 437.62h4.9v4.9h-4.9ZM439.73 426.74h4.9v4.9h-4.9ZM446.98 419.89h4.9v4.9h-4.9ZM454.24 404.58h4.9v4.9h-4.9ZM461.49 390.47h4.9v4.9h-4.9ZM468.75 381.2h4.9v4.9h-4.9ZM476 372.34h4.9v4.9h-4.9ZM483.25 365.89h4.9v4.9h-4.9ZM490.51 359.44h4.9v4.9h-4.9ZM497.76 352.19h4.9v4.9h-4.9ZM505.02 349.77h4.9v4.9h-4.9ZM512.27 350.57h4.9v4.9h-4.9ZM519.52 350.57h4.9v4.9h-4.9ZM526.78 351.38h4.9v4.9h-4.9ZM534.03 350.98h4.9v4.9h-4.9ZM541.29 349.37h4.9v4.9h-4.9ZM548.54 350.98h4.9v4.9h-4.9ZM555.79 349.37h4.9v4.9h-4.9ZM563.05 350.98h4.9v4.9h-4.9ZM570.3 350.98h4.9v4.9h-4.9ZM577.56 351.38h4.9v4.9h-4.9ZM584.81 350.17h4.9v4.9h-4.9ZM592.06 350.98h4.9v4.9h-4.9ZM599.32 354.61h4.9v4.9h-4.9ZM606.57 361.05h4.9v4.9h-4.9ZM613.83 355.81h4.9v4.9h-4.9ZM621.08 363.07h4.9v4.9h-4.9ZM628.33 357.83h4.9v4.9h-4.9Z" fill="#666666"/>
<path d="M636.2 352.8H644.5V373.8H636.2" stroke="#3a3a3a" stroke-width="1.25" fill="none" stroke-linejoin="round"/>
<path d="M650.6 359V368.3M647.9 361.6H653.8" stroke="#000" stroke-width="1.3" fill="none"/>
<line x1="412" y1="742" x2="659.2" y2="742" stroke="#3a3a3a" stroke-width="1.25"/>
<line x1="416.8" y1="742" x2="416.8" y2="746.6" stroke="#3a3a3a" stroke-width="1.25"/>
<text x="410.73" y="759.1" font-size="11.3" font-weight="bold" fill="#000" textLength="12.57" lengthAdjust="spacingAndGlyphs" stroke="#000" stroke-width="0.2">20</text>
<line x1="465.16" y1="742" x2="465.16" y2="746.6" stroke="#3a3a3a" stroke-width="1.25"/>
<text x="459.2" y="759.1" font-size="11.3" font-weight="bold" fill="#000" textLength="12.57" lengthAdjust="spacingAndGlyphs" stroke="#000" stroke-width="0.2">40</text>
<line x1="513.52" y1="742" x2="513.52" y2="746.6" stroke="#3a3a3a" stroke-width="1.25"/>
<text x="507.39" y="759.1" font-size="11.3" font-weight="bold" fill="#000" textLength="12.57" lengthAdjust="spacingAndGlyphs" stroke="#000" stroke-width="0.2">60</text>
<line x1="561.88" y1="742" x2="561.88" y2="746.6" stroke="#3a3a3a" stroke-width="1.25"/>
<text x="555.81" y="759.1" font-size="11.3" font-weight="bold" fill="#000" textLength="12.57" lengthAdjust="spacingAndGlyphs" stroke="#000" stroke-width="0.2">80</text>
<line x1="610.24" y1="742" x2="610.24" y2="746.6" stroke="#3a3a3a" stroke-width="1.25"/>
<text x="600.89" y="759.1" font-size="11.3" font-weight="bold" fill="#000" textLength="18.85" lengthAdjust="spacingAndGlyphs" stroke="#000" stroke-width="0.2">100</text>
<line x1="658.6" y1="742" x2="658.6" y2="746.6" stroke="#3a3a3a" stroke-width="1.25"/>
<text x="649.25" y="759.1" font-size="11.3" font-weight="bold" fill="#000" textLength="18.85" lengthAdjust="spacingAndGlyphs" stroke="#000" stroke-width="0.2">120</text>
<line x1="416.8" y1="580.1" x2="416.8" y2="746.8" stroke="#3a3a3a" stroke-width="1.25"/>
<line x1="412" y1="742" x2="416.8" y2="742" stroke="#3a3a3a" stroke-width="1.25"/>
<text x="404.22" y="746" font-size="11.3" font-weight="bold" fill="#000" textLength="6.28" lengthAdjust="spacingAndGlyphs" stroke="#000" stroke-width="0.2">0</text>
<line x1="412" y1="704.24" x2="416.8" y2="704.24" stroke="#3a3a3a" stroke-width="1.25"/>
<text x="391.68" y="708.24" font-size="11.3" font-weight="bold" fill="#000" textLength="18.85" lengthAdjust="spacingAndGlyphs" stroke="#000" stroke-width="0.2">200</text>
<line x1="412" y1="666.48" x2="416.8" y2="666.48" stroke="#3a3a3a" stroke-width="1.25"/>
<text x="391.68" y="670.48" font-size="11.3" font-weight="bold" fill="#000" textLength="18.85" lengthAdjust="spacingAndGlyphs" stroke="#000" stroke-width="0.2">400</text>
<line x1="412" y1="628.72" x2="416.8" y2="628.72" stroke="#3a3a3a" stroke-width="1.25"/>
<text x="391.68" y="632.72" font-size="11.3" font-weight="bold" fill="#000" textLength="18.85" lengthAdjust="spacingAndGlyphs" stroke="#000" stroke-width="0.2">600</text>
<line x1="412" y1="590.96" x2="416.8" y2="590.96" stroke="#3a3a3a" stroke-width="1.25"/>
<text x="391.68" y="594.96" font-size="11.3" font-weight="bold" fill="#000" textLength="18.85" lengthAdjust="spacingAndGlyphs" stroke="#000" stroke-width="0.2">800</text>
<text x="384.6" y="744.33" font-size="13.7" font-weight="bold" fill="#000" textLength="165.76" lengthAdjust="spacingAndGlyphs" transform="rotate(-90 384.6 744.33)" stroke="#000" stroke-width="0.2">Cumulative food intake (g)</text>
<text x="504.6" y="777.7" font-size="13.7" font-weight="bold" fill="#000" textLength="67.79" lengthAdjust="spacingAndGlyphs" stroke="#000" stroke-width="0.2">Age (days)</text>
<path d="M433.73 739.92V740.49M431.33 740.49H436.13M440.98 737.56V738.26M438.58 738.26H443.38M448.23 735.2V736.02M445.83 736.02H450.63M455.49 731.99V732.94M453.09 732.94H457.89M462.74 728.78V729.85M460.34 729.85H465.14M470 724.63V725.83M467.6 725.83H472.4M477.25 719.91V721.23M474.85 721.23H479.65M484.5 714.62V716.07M482.1 716.07H486.9M491.76 709.15V710.72M489.36 710.72H494.16M499.01 704.24V705.94M496.61 705.94H501.41M506.27 698.95V700.78M503.87 700.78H508.67M513.52 693.29V695.24M511.12 695.24H515.92M520.77 687.44V689.51M518.37 689.51H523.17M528.03 682.34V684.54M525.63 684.54H530.43M535.28 677.24V679.57M532.88 679.57H537.68M542.54 672.52V674.98M540.14 674.98H544.94M549.79 667.05V669.63M547.39 669.63H552.19M557.04 661.57V664.28M554.64 664.28H559.44M564.3 655.81V658.64M561.9 658.64H566.7M571.55 650.43V653.39M569.15 653.39H573.95M578.81 645.24V648.32M576.41 648.32H581.21M586.06 639.48V642.69M583.66 642.69H588.46M593.31 634.38V637.72M590.91 637.72H595.71M600.57 628.91V632.37M598.17 632.37H602.97M607.82 624V627.59M605.42 627.59H610.22M615.08 619.09V622.8M612.68 622.8H617.48M622.33 614.18V618.02M619.93 618.02H624.73M629.58 608.52V612.48M627.18 612.48H631.98" stroke="#555" stroke-width="1" fill="none"/>
<path d="M433.73 739.92L440.98 737.56L448.23 735.2L455.49 731.99L462.74 728.78L470 724.63L477.25 719.91L484.5 714.62L491.76 709.15L499.01 704.24L506.27 698.95L513.52 693.29L520.77 687.44L528.03 682.34L535.28 677.24L542.54 672.52L549.79 667.05L557.04 661.57L564.3 655.81L571.55 650.43L578.81 645.24L586.06 639.48L593.31 634.38L600.57 628.91L607.82 624L615.08 619.09L622.33 614.18L629.58 608.52" stroke="#000" stroke-width="1.15" fill="none" stroke-linejoin="round"/>
<path d="M431.33 739.92a2.4 2.4 0 1 0 4.8 0a2.4 2.4 0 1 0 -4.8 0ZM438.58 737.56a2.4 2.4 0 1 0 4.8 0a2.4 2.4 0 1 0 -4.8 0ZM445.83 735.2a2.4 2.4 0 1 0 4.8 0a2.4 2.4 0 1 0 -4.8 0ZM453.09 731.99a2.4 2.4 0 1 0 4.8 0a2.4 2.4 0 1 0 -4.8 0ZM460.34 728.78a2.4 2.4 0 1 0 4.8 0a2.4 2.4 0 1 0 -4.8 0ZM467.6 724.63a2.4 2.4 0 1 0 4.8 0a2.4 2.4 0 1 0 -4.8 0ZM474.85 719.91a2.4 2.4 0 1 0 4.8 0a2.4 2.4 0 1 0 -4.8 0ZM482.1 714.62a2.4 2.4 0 1 0 4.8 0a2.4 2.4 0 1 0 -4.8 0ZM489.36 709.15a2.4 2.4 0 1 0 4.8 0a2.4 2.4 0 1 0 -4.8 0ZM496.61 704.24a2.4 2.4 0 1 0 4.8 0a2.4 2.4 0 1 0 -4.8 0ZM503.87 698.95a2.4 2.4 0 1 0 4.8 0a2.4 2.4 0 1 0 -4.8 0ZM511.12 693.29a2.4 2.4 0 1 0 4.8 0a2.4 2.4 0 1 0 -4.8 0ZM518.37 687.44a2.4 2.4 0 1 0 4.8 0a2.4 2.4 0 1 0 -4.8 0ZM525.63 682.34a2.4 2.4 0 1 0 4.8 0a2.4 2.4 0 1 0 -4.8 0ZM532.88 677.24a2.4 2.4 0 1 0 4.8 0a2.4 2.4 0 1 0 -4.8 0ZM540.14 672.52a2.4 2.4 0 1 0 4.8 0a2.4 2.4 0 1 0 -4.8 0ZM547.39 667.05a2.4 2.4 0 1 0 4.8 0a2.4 2.4 0 1 0 -4.8 0ZM554.64 661.57a2.4 2.4 0 1 0 4.8 0a2.4 2.4 0 1 0 -4.8 0ZM561.9 655.81a2.4 2.4 0 1 0 4.8 0a2.4 2.4 0 1 0 -4.8 0ZM569.15 650.43a2.4 2.4 0 1 0 4.8 0a2.4 2.4 0 1 0 -4.8 0ZM576.41 645.24a2.4 2.4 0 1 0 4.8 0a2.4 2.4 0 1 0 -4.8 0ZM583.66 639.48a2.4 2.4 0 1 0 4.8 0a2.4 2.4 0 1 0 -4.8 0ZM590.91 634.38a2.4 2.4 0 1 0 4.8 0a2.4 2.4 0 1 0 -4.8 0ZM598.17 628.91a2.4 2.4 0 1 0 4.8 0a2.4 2.4 0 1 0 -4.8 0ZM605.42 624a2.4 2.4 0 1 0 4.8 0a2.4 2.4 0 1 0 -4.8 0ZM612.68 619.09a2.4 2.4 0 1 0 4.8 0a2.4 2.4 0 1 0 -4.8 0ZM619.93 614.18a2.4 2.4 0 1 0 4.8 0a2.4 2.4 0 1 0 -4.8 0ZM627.18 608.52a2.4 2.4 0 1 0 4.8 0a2.4 2.4 0 1 0 -4.8 0Z" fill="#000"/>
<path d="M433.73 739.17V739.73M431.33 739.17H436.13M440.98 736.04V736.71M438.58 736.04H443.38M448.23 732.92V733.69M445.83 732.92H450.63M455.49 729.79V730.67M453.09 729.79H457.89M462.74 726.67V727.65M460.34 726.67H465.14M470 721.46V722.55M467.6 721.46H472.4M477.25 716.26V717.46M474.85 716.26H479.65M484.5 711.06V712.36M482.1 711.06H486.9M491.76 705.86V707.26M489.36 705.86H494.16M499.01 700.28V701.79M496.61 700.28H501.41M506.27 694.7V696.31M503.87 694.7H508.67M513.52 688.64V690.36M511.12 688.64H515.92M520.77 682.59V684.42M518.37 682.59H523.17M528.03 676.92V678.85M525.63 676.92H530.43M535.28 671.24V673.28M532.88 671.24H537.68M542.54 665.1V667.24M540.14 665.1H544.94M549.79 659.33V661.57M547.39 659.33H552.19M557.04 653.46V655.81M554.64 653.46H559.44M564.3 647.6V650.05M561.9 647.6H566.7M571.55 641.83V644.39M569.15 641.83H573.95M578.81 636.35V639.01M576.41 636.35H581.21M586.06 630.48V633.25M583.66 630.48H588.46M593.31 624.71V627.59M590.91 624.71H595.71M600.57 618.94V621.92M598.17 618.94H602.97M607.82 613.18V616.26M605.42 613.18H610.22M615.08 607.78V610.97M612.68 607.78H617.48M622.33 602.02V605.31M619.93 602.02H624.73M629.58 596.25V599.64M627.18 596.25H631.98" stroke="#555" stroke-width="1" fill="none"/>
<path d="M433.73 739.73L440.98 736.71L448.23 733.69L455.49 730.67L462.74 727.65L470 722.55L477.25 717.46L484.5 712.36L491.76 707.26L499.01 701.79L506.27 696.31L513.52 690.36L520.77 684.42L528.03 678.85L535.28 673.28L542.54 667.24L549.79 661.57L557.04 655.81L564.3 650.05L571.55 644.39L578.81 639.01L586.06 633.25L593.31 627.59L600.57 621.92L607.82 616.26L615.08 610.97L622.33 605.31L629.58 599.64" stroke="#000" stroke-width="1.15" fill="none" stroke-linejoin="round"/>
<path d="M431.33 737.33h4.8v4.8h-4.8ZM438.58 734.31h4.8v4.8h-4.8ZM445.83 731.29h4.8v4.8h-4.8ZM453.09 728.27h4.8v4.8h-4.8ZM460.34 725.25h4.8v4.8h-4.8ZM467.6 720.15h4.8v4.8h-4.8ZM474.85 715.06h4.8v4.8h-4.8ZM482.1 709.96h4.8v4.8h-4.8ZM489.36 704.86h4.8v4.8h-4.8ZM496.61 699.39h4.8v4.8h-4.8ZM503.87 693.91h4.8v4.8h-4.8ZM511.12 687.96h4.8v4.8h-4.8ZM518.37 682.02h4.8v4.8h-4.8ZM525.63 676.45h4.8v4.8h-4.8ZM532.88 670.88h4.8v4.8h-4.8ZM540.14 664.84h4.8v4.8h-4.8ZM547.39 659.17h4.8v4.8h-4.8ZM554.64 653.41h4.8v4.8h-4.8ZM561.9 647.65h4.8v4.8h-4.8ZM569.15 641.99h4.8v4.8h-4.8ZM576.41 636.61h4.8v4.8h-4.8ZM583.66 630.85h4.8v4.8h-4.8ZM590.91 625.19h4.8v4.8h-4.8ZM598.17 619.52h4.8v4.8h-4.8ZM605.42 613.86h4.8v4.8h-4.8ZM612.68 608.57h4.8v4.8h-4.8ZM619.93 602.91h4.8v4.8h-4.8ZM627.18 597.24h4.8v4.8h-4.8Z" fill="#000"/>
<path d="M433.73 739.73V740.3M431.33 739.73H436.13M440.98 736.94V737.66M438.58 736.94H443.38M448.23 734.34V735.2M445.83 734.34H450.63M455.49 730.42V731.43M453.09 730.42H457.89M462.74 726.12V727.27M460.34 726.12H465.14M470 721.44V722.74M467.6 721.44H472.4M477.25 716.01V717.46M474.85 716.01H479.65M484.5 710.58V712.17M482.1 710.58H486.9M491.76 704.39V706.13M489.36 704.39H494.16M499.01 698.2V700.09M496.61 698.2H501.41M506.27 691.63V693.67M503.87 691.63H508.67M513.52 685.63V687.81M511.12 685.63H515.92M520.77 679.26V681.58M518.37 679.26H523.17M528.03 672.5V674.98M525.63 672.5H530.43M535.28 666.12V668.75M532.88 666.12H537.68M542.54 660.31V663.08M540.14 660.31H544.94M549.79 653.65V656.57M547.39 653.65H552.19M557.04 647.75V650.81M554.64 647.75H559.44M564.3 641.18V644.39M561.9 641.18H566.7M571.55 635.37V638.73M569.15 635.37H573.95M578.81 629.46V632.97M576.41 629.46H581.21M586.06 623.56V627.21M583.66 623.56H588.46M593.31 616.8V620.6M590.91 616.8H595.71M600.57 610.99V614.94M598.17 610.99H602.97M607.82 605.18V609.27M605.42 605.18H610.22M615.08 598.52V602.76M612.68 598.52H617.48M622.33 592.62V597M619.93 592.62H624.73M629.58 587.37V591.9M627.18 587.37H631.98" stroke="#8a8a8a" stroke-width="1" fill="none"/>
<path d="M433.73 740.3L440.98 737.66L448.23 735.2L455.49 731.43L462.74 727.27L470 722.74L477.25 717.46L484.5 712.17L491.76 706.13L499.01 700.09L506.27 693.67L513.52 687.81L520.77 681.58L528.03 674.98L535.28 668.75L542.54 663.08L549.79 656.57L557.04 650.81L564.3 644.39L571.55 638.73L578.81 632.97L586.06 627.21L593.31 620.6L600.57 614.94L607.82 609.27L615.08 602.76L622.33 597L629.58 591.9" stroke="#5e5e5e" stroke-width="1.0" fill="none" stroke-linejoin="round"/>
<path d="M431.33 740.3a2.4 2.4 0 1 0 4.8 0a2.4 2.4 0 1 0 -4.8 0ZM438.58 737.66a2.4 2.4 0 1 0 4.8 0a2.4 2.4 0 1 0 -4.8 0ZM445.83 735.2a2.4 2.4 0 1 0 4.8 0a2.4 2.4 0 1 0 -4.8 0ZM453.09 731.43a2.4 2.4 0 1 0 4.8 0a2.4 2.4 0 1 0 -4.8 0ZM460.34 727.27a2.4 2.4 0 1 0 4.8 0a2.4 2.4 0 1 0 -4.8 0ZM467.6 722.74a2.4 2.4 0 1 0 4.8 0a2.4 2.4 0 1 0 -4.8 0ZM474.85 717.46a2.4 2.4 0 1 0 4.8 0a2.4 2.4 0 1 0 -4.8 0ZM482.1 712.17a2.4 2.4 0 1 0 4.8 0a2.4 2.4 0 1 0 -4.8 0ZM489.36 706.13a2.4 2.4 0 1 0 4.8 0a2.4 2.4 0 1 0 -4.8 0ZM496.61 700.09a2.4 2.4 0 1 0 4.8 0a2.4 2.4 0 1 0 -4.8 0ZM503.87 693.67a2.4 2.4 0 1 0 4.8 0a2.4 2.4 0 1 0 -4.8 0ZM511.12 687.81a2.4 2.4 0 1 0 4.8 0a2.4 2.4 0 1 0 -4.8 0ZM518.37 681.58a2.4 2.4 0 1 0 4.8 0a2.4 2.4 0 1 0 -4.8 0ZM525.63 674.98a2.4 2.4 0 1 0 4.8 0a2.4 2.4 0 1 0 -4.8 0ZM532.88 668.75a2.4 2.4 0 1 0 4.8 0a2.4 2.4 0 1 0 -4.8 0ZM540.14 663.08a2.4 2.4 0 1 0 4.8 0a2.4 2.4 0 1 0 -4.8 0ZM547.39 656.57a2.4 2.4 0 1 0 4.8 0a2.4 2.4 0 1 0 -4.8 0ZM554.64 650.81a2.4 2.4 0 1 0 4.8 0a2.4 2.4 0 1 0 -4.8 0ZM561.9 644.39a2.4 2.4 0 1 0 4.8 0a2.4 2.4 0 1 0 -4.8 0ZM569.15 638.73a2.4 2.4 0 1 0 4.8 0a2.4 2.4 0 1 0 -4.8 0ZM576.41 632.97a2.4 2.4 0 1 0 4.8 0a2.4 2.4 0 1 0 -4.8 0ZM583.66 627.21a2.4 2.4 0 1 0 4.8 0a2.4 2.4 0 1 0 -4.8 0ZM590.91 620.6a2.4 2.4 0 1 0 4.8 0a2.4 2.4 0 1 0 -4.8 0ZM598.17 614.94a2.4 2.4 0 1 0 4.8 0a2.4 2.4 0 1 0 -4.8 0ZM605.42 609.27a2.4 2.4 0 1 0 4.8 0a2.4 2.4 0 1 0 -4.8 0ZM612.68 602.76a2.4 2.4 0 1 0 4.8 0a2.4 2.4 0 1 0 -4.8 0ZM619.93 597a2.4 2.4 0 1 0 4.8 0a2.4 2.4 0 1 0 -4.8 0ZM627.18 591.9a2.4 2.4 0 1 0 4.8 0a2.4 2.4 0 1 0 -4.8 0Z" fill="#707070"/>
<path d="M433.73 738.98V739.55M431.33 738.98H436.13M440.98 736.16V736.9M438.58 736.16H443.38M448.23 733.53V734.45M445.83 733.53H450.63M455.49 729.58V730.67M453.09 729.58H457.89M462.74 725.25V726.52M460.34 725.25H465.14M470 720.55V721.99M467.6 720.55H472.4M477.25 715.09V716.7M474.85 715.09H479.65M484.5 709.62V711.41M482.1 709.62H486.9M491.76 703.41V705.37M489.36 703.41H494.16M499.01 697.19V699.33M496.61 697.19H501.41M506.27 690.6V692.91M503.87 690.6H508.67M513.52 684.57V687.06M511.12 684.57H515.92M520.77 678.16V680.83M518.37 678.16H523.17M528.03 671.38V674.22M525.63 671.38H530.43M535.28 664.98V667.99M532.88 664.98H537.68M542.54 659.14V662.33M540.14 659.14H544.94M549.79 652.45V655.81M547.39 652.45H552.19M557.04 646.52V650.05M554.64 646.52H559.44M564.3 639.92V643.64M561.9 639.92H566.7M571.55 634.08V637.97M569.15 634.08H573.95M578.81 628.15V632.21M576.41 628.15H581.21M586.06 622.22V626.45M583.66 622.22H588.46M593.31 615.43V619.85M590.91 615.43H595.71M600.57 609.6V614.18M598.17 609.6H602.97M607.82 603.76V608.52M605.42 603.76H610.22M615.08 597.07V602M612.68 597.07H617.48M622.33 591.13V596.25M619.93 591.13H624.73M629.58 585.86V591.15M627.18 585.86H631.98" stroke="#8a8a8a" stroke-width="1" fill="none"/>
<path d="M433.73 739.55L440.98 736.9L448.23 734.45L455.49 730.67L462.74 726.52L470 721.99L477.25 716.7L484.5 711.41L491.76 705.37L499.01 699.33L506.27 692.91L513.52 687.06L520.77 680.83L528.03 674.22L535.28 667.99L542.54 662.33L549.79 655.81L557.04 650.05L564.3 643.64L571.55 637.97L578.81 632.21L586.06 626.45L593.31 619.85L600.57 614.18L607.82 608.52L615.08 602L622.33 596.25L629.58 591.15" stroke="#5e5e5e" stroke-width="1.0" fill="none" stroke-linejoin="round"/>
<path d="M431.33 737.15h4.8v4.8h-4.8ZM438.58 734.5h4.8v4.8h-4.8ZM445.83 732.05h4.8v4.8h-4.8ZM453.09 728.27h4.8v4.8h-4.8ZM460.34 724.12h4.8v4.8h-4.8ZM467.6 719.59h4.8v4.8h-4.8ZM474.85 714.3h4.8v4.8h-4.8ZM482.1 709.01h4.8v4.8h-4.8ZM489.36 702.97h4.8v4.8h-4.8ZM496.61 696.93h4.8v4.8h-4.8ZM503.87 690.51h4.8v4.8h-4.8ZM511.12 684.66h4.8v4.8h-4.8ZM518.37 678.43h4.8v4.8h-4.8ZM525.63 671.82h4.8v4.8h-4.8ZM532.88 665.59h4.8v4.8h-4.8ZM540.14 659.93h4.8v4.8h-4.8ZM547.39 653.41h4.8v4.8h-4.8ZM554.64 647.65h4.8v4.8h-4.8ZM561.9 641.24h4.8v4.8h-4.8ZM569.15 635.57h4.8v4.8h-4.8ZM576.41 629.81h4.8v4.8h-4.8ZM583.66 624.05h4.8v4.8h-4.8ZM590.91 617.45h4.8v4.8h-4.8ZM598.17 611.78h4.8v4.8h-4.8ZM605.42 606.12h4.8v4.8h-4.8ZM612.68 599.6h4.8v4.8h-4.8ZM619.93 593.85h4.8v4.8h-4.8ZM627.18 588.75h4.8v4.8h-4.8Z" fill="#666666"/>
<path d="M630.4 619.9V629.7M627.75 622.3H633.05M627.75 627H633.05" stroke="#000" stroke-width="1.35" fill="none"/>
</svg></body></html>
